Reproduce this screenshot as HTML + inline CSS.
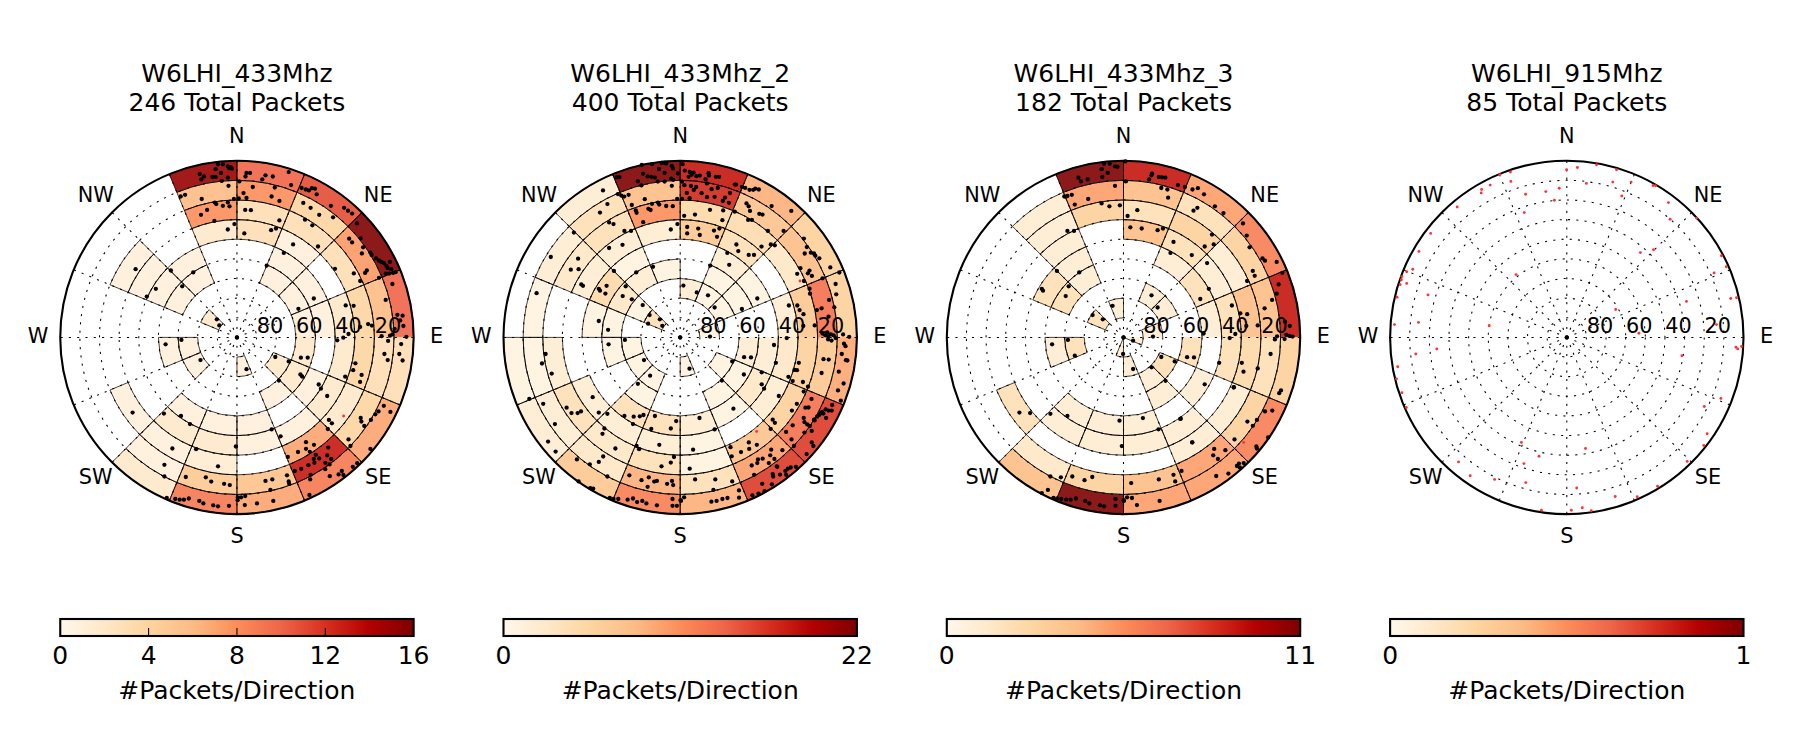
<!DOCTYPE html><html><head><meta charset="utf-8"><title>Packets per direction</title><style>html,body{margin:0;padding:0;background:#fff}body{width:1800px;height:750px;overflow:hidden}svg{display:block}</style></head><body><svg width="1800" height="750" viewBox="0 0 1800 750" font-family="DejaVu Sans, Liberation Sans, sans-serif">
<defs><linearGradient id="g" x1="0" x2="1" y1="0" y2="0">
<stop offset="0.000" stop-color="#fff7ec"/>
<stop offset="0.125" stop-color="#fee8c8"/>
<stop offset="0.250" stop-color="#fdd49e"/>
<stop offset="0.375" stop-color="#fdbb84"/>
<stop offset="0.500" stop-color="#fc8d59"/>
<stop offset="0.625" stop-color="#ef6548"/>
<stop offset="0.750" stop-color="#d7301f"/>
<stop offset="0.875" stop-color="#b30000"/>
<stop offset="1.000" stop-color="#7f0000"/>
</linearGradient></defs>
<g>
<path d="M236.95 160.70A176.70 176.70 0 0 1 304.57 174.15L297.06 192.29A157.07 157.07 0 0 0 236.95 180.33Z" fill="#f1745a" stroke="#f1745a" stroke-width="0.5"/><path d="M236.95 180.33A157.07 157.07 0 0 1 297.06 192.29L289.54 210.43A137.43 137.43 0 0 0 236.95 199.97Z" fill="#fc986a" stroke="#fc986a" stroke-width="0.5"/><path d="M236.95 199.97A137.43 137.43 0 0 1 289.54 210.43L282.03 228.57A117.80 117.80 0 0 0 236.95 219.60Z" fill="#fee1bb" stroke="#fee1bb" stroke-width="0.5"/><path d="M236.95 219.60A117.80 117.80 0 0 1 282.03 228.57L274.52 246.71A98.17 98.17 0 0 0 236.95 239.23Z" fill="#fee1bb" stroke="#fee1bb" stroke-width="0.5"/><path d="M304.57 174.15A176.70 176.70 0 0 1 361.90 212.45L348.01 226.34A157.07 157.07 0 0 0 297.06 192.29Z" fill="#e65d48" stroke="#e65d48" stroke-width="0.5"/><path d="M297.06 192.29A157.07 157.07 0 0 1 348.01 226.34L334.13 240.22A137.43 137.43 0 0 0 289.54 210.43Z" fill="#fdd8a8" stroke="#fdd8a8" stroke-width="0.5"/><path d="M289.54 210.43A137.43 137.43 0 0 1 334.13 240.22L320.25 254.10A117.80 117.80 0 0 0 282.03 228.57Z" fill="#fee1bb" stroke="#fee1bb" stroke-width="0.5"/><path d="M282.03 228.57A117.80 117.80 0 0 1 320.25 254.10L306.36 267.99A98.17 98.17 0 0 0 274.52 246.71Z" fill="#fff1de" stroke="#fff1de" stroke-width="0.5"/><path d="M274.52 246.71A98.17 98.17 0 0 1 306.36 267.99L292.48 281.87A78.53 78.53 0 0 0 267.00 264.84Z" fill="#fff1de" stroke="#fff1de" stroke-width="0.5"/><path d="M267.00 264.84A78.53 78.53 0 0 1 292.48 281.87L278.60 295.75A58.90 58.90 0 0 0 259.49 282.98Z" fill="#fff1de" stroke="#fff1de" stroke-width="0.5"/><path d="M361.90 212.45A176.70 176.70 0 0 1 400.20 269.78L382.06 277.29A157.07 157.07 0 0 0 348.01 226.34Z" fill="#8c1a1a" stroke="#8c1a1a" stroke-width="0.5"/><path d="M348.01 226.34A157.07 157.07 0 0 1 382.06 277.29L363.92 284.81A137.43 137.43 0 0 0 334.13 240.22Z" fill="#fda373" stroke="#fda373" stroke-width="0.5"/><path d="M334.13 240.22A137.43 137.43 0 0 1 363.92 284.81L345.78 292.32A117.80 117.80 0 0 0 320.25 254.10Z" fill="#fee1bb" stroke="#fee1bb" stroke-width="0.5"/><path d="M306.36 267.99A98.17 98.17 0 0 1 327.64 299.83L309.51 307.35A78.53 78.53 0 0 0 292.48 281.87Z" fill="#fff1de" stroke="#fff1de" stroke-width="0.5"/><path d="M292.48 281.87A78.53 78.53 0 0 1 309.51 307.35L291.37 314.86A58.90 58.90 0 0 0 278.60 295.75Z" fill="#fff1de" stroke="#fff1de" stroke-width="0.5"/><path d="M400.20 269.78A176.70 176.70 0 0 1 413.65 337.40L394.02 337.40A157.07 157.07 0 0 0 382.06 277.29Z" fill="#f1745a" stroke="#f1745a" stroke-width="0.5"/><path d="M382.06 277.29A157.07 157.07 0 0 1 394.02 337.40L374.38 337.40A137.43 137.43 0 0 0 363.92 284.81Z" fill="#fdc290" stroke="#fdc290" stroke-width="0.5"/><path d="M363.92 284.81A137.43 137.43 0 0 1 374.38 337.40L354.75 337.40A117.80 117.80 0 0 0 345.78 292.32Z" fill="#fdd8a8" stroke="#fdd8a8" stroke-width="0.5"/><path d="M345.78 292.32A117.80 117.80 0 0 1 354.75 337.40L335.12 337.40A98.17 98.17 0 0 0 327.64 299.83Z" fill="#feeace" stroke="#feeace" stroke-width="0.5"/><path d="M327.64 299.83A98.17 98.17 0 0 1 335.12 337.40L315.48 337.40A78.53 78.53 0 0 0 309.51 307.35Z" fill="#fff1de" stroke="#fff1de" stroke-width="0.5"/><path d="M309.51 307.35A78.53 78.53 0 0 1 315.48 337.40L295.85 337.40A58.90 58.90 0 0 0 291.37 314.86Z" fill="#fff1de" stroke="#fff1de" stroke-width="0.5"/><path d="M413.65 337.40A176.70 176.70 0 0 1 400.20 405.02L382.06 397.51A157.07 157.07 0 0 0 394.02 337.40Z" fill="#fee1bb" stroke="#fee1bb" stroke-width="0.5"/><path d="M394.02 337.40A157.07 157.07 0 0 1 382.06 397.51L363.92 389.99A137.43 137.43 0 0 0 374.38 337.40Z" fill="#fee1bb" stroke="#fee1bb" stroke-width="0.5"/><path d="M374.38 337.40A137.43 137.43 0 0 1 363.92 389.99L345.78 382.48A117.80 117.80 0 0 0 354.75 337.40Z" fill="#fdd8a8" stroke="#fdd8a8" stroke-width="0.5"/><path d="M354.75 337.40A117.80 117.80 0 0 1 345.78 382.48L327.64 374.97A98.17 98.17 0 0 0 335.12 337.40Z" fill="#feeace" stroke="#feeace" stroke-width="0.5"/><path d="M315.48 337.40A78.53 78.53 0 0 1 309.51 367.45L291.37 359.94A58.90 58.90 0 0 0 295.85 337.40Z" fill="#feeace" stroke="#feeace" stroke-width="0.5"/><path d="M400.20 405.02A176.70 176.70 0 0 1 361.90 462.35L348.01 448.46A157.07 157.07 0 0 0 382.06 397.51Z" fill="#fdad7d" stroke="#fdad7d" stroke-width="0.5"/><path d="M382.06 397.51A157.07 157.07 0 0 1 348.01 448.46L334.13 434.58A137.43 137.43 0 0 0 363.92 389.99Z" fill="#fdd8a8" stroke="#fdd8a8" stroke-width="0.5"/><path d="M363.92 389.99A137.43 137.43 0 0 1 334.13 434.58L320.25 420.70A117.80 117.80 0 0 0 345.78 382.48Z" fill="#feeace" stroke="#feeace" stroke-width="0.5"/><path d="M345.78 382.48A117.80 117.80 0 0 1 320.25 420.70L306.36 406.81A98.17 98.17 0 0 0 327.64 374.97Z" fill="#feeace" stroke="#feeace" stroke-width="0.5"/><path d="M327.64 374.97A98.17 98.17 0 0 1 306.36 406.81L292.48 392.93A78.53 78.53 0 0 0 309.51 367.45Z" fill="#fff1de" stroke="#fff1de" stroke-width="0.5"/><path d="M309.51 367.45A78.53 78.53 0 0 1 292.48 392.93L278.60 379.05A58.90 58.90 0 0 0 291.37 359.94Z" fill="#feeace" stroke="#feeace" stroke-width="0.5"/><path d="M291.37 359.94A58.90 58.90 0 0 1 278.60 379.05L264.72 365.17A39.27 39.27 0 0 0 273.23 352.43Z" fill="#feeace" stroke="#feeace" stroke-width="0.5"/><path d="M361.90 462.35A176.70 176.70 0 0 1 304.57 500.65L297.06 482.51A157.07 157.07 0 0 0 348.01 448.46Z" fill="#f68662" stroke="#f68662" stroke-width="0.5"/><path d="M348.01 448.46A157.07 157.07 0 0 1 297.06 482.51L289.54 464.37A137.43 137.43 0 0 0 334.13 434.58Z" fill="#cb2f27" stroke="#cb2f27" stroke-width="0.5"/><path d="M334.13 434.58A137.43 137.43 0 0 1 289.54 464.37L282.03 446.23A117.80 117.80 0 0 0 320.25 420.70Z" fill="#fdad7d" stroke="#fdad7d" stroke-width="0.5"/><path d="M320.25 420.70A117.80 117.80 0 0 1 282.03 446.23L274.52 428.09A98.17 98.17 0 0 0 306.36 406.81Z" fill="#fff1de" stroke="#fff1de" stroke-width="0.5"/><path d="M292.48 392.93A78.53 78.53 0 0 1 267.00 409.96L259.49 391.82A58.90 58.90 0 0 0 278.60 379.05Z" fill="#fff1de" stroke="#fff1de" stroke-width="0.5"/><path d="M304.57 500.65A176.70 176.70 0 0 1 236.95 514.10L236.95 494.47A157.07 157.07 0 0 0 297.06 482.51Z" fill="#fdad7d" stroke="#fdad7d" stroke-width="0.5"/><path d="M297.06 482.51A157.07 157.07 0 0 1 236.95 494.47L236.95 474.83A137.43 137.43 0 0 0 289.54 464.37Z" fill="#fdc796" stroke="#fdc796" stroke-width="0.5"/><path d="M282.03 446.23A117.80 117.80 0 0 1 236.95 455.20L236.95 435.57A98.17 98.17 0 0 0 274.52 428.09Z" fill="#fff1de" stroke="#fff1de" stroke-width="0.5"/><path d="M274.52 428.09A98.17 98.17 0 0 1 236.95 435.57L236.95 415.93A78.53 78.53 0 0 0 267.00 409.96Z" fill="#fff1de" stroke="#fff1de" stroke-width="0.5"/><path d="M251.98 373.68A39.27 39.27 0 0 1 236.95 376.67L236.95 357.03A19.63 19.63 0 0 0 244.46 355.54Z" fill="#fff1de" stroke="#fff1de" stroke-width="0.5"/><path d="M236.95 514.10A176.70 176.70 0 0 1 169.33 500.65L176.84 482.51A157.07 157.07 0 0 0 236.95 494.47Z" fill="#f68662" stroke="#f68662" stroke-width="0.5"/><path d="M236.95 494.47A157.07 157.07 0 0 1 176.84 482.51L184.36 464.37A137.43 137.43 0 0 0 236.95 474.83Z" fill="#fdcd9c" stroke="#fdcd9c" stroke-width="0.5"/><path d="M236.95 474.83A137.43 137.43 0 0 1 184.36 464.37L191.87 446.23A117.80 117.80 0 0 0 236.95 455.20Z" fill="#feeed6" stroke="#feeed6" stroke-width="0.5"/><path d="M236.95 455.20A117.80 117.80 0 0 1 191.87 446.23L199.38 428.09A98.17 98.17 0 0 0 236.95 435.57Z" fill="#feeace" stroke="#feeace" stroke-width="0.5"/><path d="M236.95 435.57A98.17 98.17 0 0 1 199.38 428.09L206.90 409.96A78.53 78.53 0 0 0 236.95 415.93Z" fill="#fff1de" stroke="#fff1de" stroke-width="0.5"/><path d="M169.33 500.65A176.70 176.70 0 0 1 112.00 462.35L125.89 448.46A157.07 157.07 0 0 0 176.84 482.51Z" fill="#feeace" stroke="#feeace" stroke-width="0.5"/><path d="M176.84 482.51A157.07 157.07 0 0 1 125.89 448.46L139.77 434.58A137.43 137.43 0 0 0 184.36 464.37Z" fill="#fff1de" stroke="#fff1de" stroke-width="0.5"/><path d="M184.36 464.37A137.43 137.43 0 0 1 139.77 434.58L153.65 420.70A117.80 117.80 0 0 0 191.87 446.23Z" fill="#fff1de" stroke="#fff1de" stroke-width="0.5"/><path d="M191.87 446.23A117.80 117.80 0 0 1 153.65 420.70L167.54 406.81A98.17 98.17 0 0 0 199.38 428.09Z" fill="#feeace" stroke="#feeace" stroke-width="0.5"/><path d="M199.38 428.09A98.17 98.17 0 0 1 167.54 406.81L181.42 392.93A78.53 78.53 0 0 0 206.90 409.96Z" fill="#fff1de" stroke="#fff1de" stroke-width="0.5"/><path d="M139.77 434.58A137.43 137.43 0 0 1 109.98 389.99L128.12 382.48A117.80 117.80 0 0 0 153.65 420.70Z" fill="#fff1de" stroke="#fff1de" stroke-width="0.5"/><path d="M195.30 379.05A58.90 58.90 0 0 1 182.53 359.94L200.67 352.43A39.27 39.27 0 0 0 209.18 365.17Z" fill="#fff1de" stroke="#fff1de" stroke-width="0.5"/><path d="M164.39 367.45A78.53 78.53 0 0 1 158.42 337.40L178.05 337.40A58.90 58.90 0 0 0 182.53 359.94Z" fill="#fff1de" stroke="#fff1de" stroke-width="0.5"/><path d="M182.53 359.94A58.90 58.90 0 0 1 178.05 337.40L197.68 337.40A39.27 39.27 0 0 0 200.67 352.43Z" fill="#fff1de" stroke="#fff1de" stroke-width="0.5"/><path d="M109.98 284.81A137.43 137.43 0 0 1 139.77 240.22L153.65 254.10A117.80 117.80 0 0 0 128.12 292.32Z" fill="#fff1de" stroke="#fff1de" stroke-width="0.5"/><path d="M128.12 292.32A117.80 117.80 0 0 1 153.65 254.10L167.54 267.99A98.17 98.17 0 0 0 146.26 299.83Z" fill="#fff1de" stroke="#fff1de" stroke-width="0.5"/><path d="M146.26 299.83A98.17 98.17 0 0 1 167.54 267.99L181.42 281.87A78.53 78.53 0 0 0 164.39 307.35Z" fill="#fff1de" stroke="#fff1de" stroke-width="0.5"/><path d="M164.39 307.35A78.53 78.53 0 0 1 181.42 281.87L195.30 295.75A58.90 58.90 0 0 0 182.53 314.86Z" fill="#fff1de" stroke="#fff1de" stroke-width="0.5"/><path d="M200.67 322.37A39.27 39.27 0 0 1 209.18 309.63L223.07 323.52A19.63 19.63 0 0 0 218.81 329.89Z" fill="#feeace" stroke="#feeace" stroke-width="0.5"/><path d="M167.54 267.99A98.17 98.17 0 0 1 199.38 246.71L206.90 264.84A78.53 78.53 0 0 0 181.42 281.87Z" fill="#fff1de" stroke="#fff1de" stroke-width="0.5"/><path d="M181.42 281.87A78.53 78.53 0 0 1 206.90 264.84L214.41 282.98A58.90 58.90 0 0 0 195.30 295.75Z" fill="#fff1de" stroke="#fff1de" stroke-width="0.5"/><path d="M169.33 174.15A176.70 176.70 0 0 1 236.95 160.70L236.95 180.33A157.07 157.07 0 0 0 176.84 192.29Z" fill="#a31a1a" stroke="#a31a1a" stroke-width="0.5"/><path d="M176.84 192.29A157.07 157.07 0 0 1 236.95 180.33L236.95 199.97A137.43 137.43 0 0 0 184.36 210.43Z" fill="#fdc290" stroke="#fdc290" stroke-width="0.5"/><path d="M184.36 210.43A137.43 137.43 0 0 1 236.95 199.97L236.95 219.60A117.80 117.80 0 0 0 191.87 228.57Z" fill="#fc986a" stroke="#fc986a" stroke-width="0.5"/><path d="M191.87 228.57A117.80 117.80 0 0 1 236.95 219.60L236.95 239.23A98.17 98.17 0 0 0 199.38 246.71Z" fill="#feeace" stroke="#feeace" stroke-width="0.5"/>
<path d="M236.95 160.70A176.70 176.70 0 0 1 304.57 174.15M236.95 180.33A157.07 157.07 0 0 1 297.06 192.29M236.95 160.70L236.95 180.33M304.57 174.15L297.06 192.29M236.95 180.33A157.07 157.07 0 0 1 297.06 192.29M236.95 199.97A137.43 137.43 0 0 1 289.54 210.43M236.95 180.33L236.95 199.97M297.06 192.29L289.54 210.43M236.95 199.97A137.43 137.43 0 0 1 289.54 210.43M236.95 219.60A117.80 117.80 0 0 1 282.03 228.57M236.95 199.97L236.95 219.60M289.54 210.43L282.03 228.57M236.95 219.60A117.80 117.80 0 0 1 282.03 228.57M236.95 239.23A98.17 98.17 0 0 1 274.52 246.71M236.95 219.60L236.95 239.23M282.03 228.57L274.52 246.71M304.57 174.15A176.70 176.70 0 0 1 361.90 212.45M297.06 192.29A157.07 157.07 0 0 1 348.01 226.34M304.57 174.15L297.06 192.29M361.90 212.45L348.01 226.34M297.06 192.29A157.07 157.07 0 0 1 348.01 226.34M289.54 210.43A137.43 137.43 0 0 1 334.13 240.22M297.06 192.29L289.54 210.43M348.01 226.34L334.13 240.22M289.54 210.43A137.43 137.43 0 0 1 334.13 240.22M282.03 228.57A117.80 117.80 0 0 1 320.25 254.10M289.54 210.43L282.03 228.57M334.13 240.22L320.25 254.10M282.03 228.57A117.80 117.80 0 0 1 320.25 254.10M274.52 246.71A98.17 98.17 0 0 1 306.36 267.99M282.03 228.57L274.52 246.71M320.25 254.10L306.36 267.99M274.52 246.71A98.17 98.17 0 0 1 306.36 267.99M267.00 264.84A78.53 78.53 0 0 1 292.48 281.87M274.52 246.71L267.00 264.84M306.36 267.99L292.48 281.87M267.00 264.84A78.53 78.53 0 0 1 292.48 281.87M259.49 282.98A58.90 58.90 0 0 1 278.60 295.75M267.00 264.84L259.49 282.98M292.48 281.87L278.60 295.75M361.90 212.45A176.70 176.70 0 0 1 400.20 269.78M348.01 226.34A157.07 157.07 0 0 1 382.06 277.29M361.90 212.45L348.01 226.34M400.20 269.78L382.06 277.29M348.01 226.34A157.07 157.07 0 0 1 382.06 277.29M334.13 240.22A137.43 137.43 0 0 1 363.92 284.81M348.01 226.34L334.13 240.22M382.06 277.29L363.92 284.81M334.13 240.22A137.43 137.43 0 0 1 363.92 284.81M320.25 254.10A117.80 117.80 0 0 1 345.78 292.32M334.13 240.22L320.25 254.10M363.92 284.81L345.78 292.32M306.36 267.99A98.17 98.17 0 0 1 327.64 299.83M292.48 281.87A78.53 78.53 0 0 1 309.51 307.35M306.36 267.99L292.48 281.87M327.64 299.83L309.51 307.35M292.48 281.87A78.53 78.53 0 0 1 309.51 307.35M278.60 295.75A58.90 58.90 0 0 1 291.37 314.86M292.48 281.87L278.60 295.75M309.51 307.35L291.37 314.86M400.20 269.78A176.70 176.70 0 0 1 413.65 337.40M382.06 277.29A157.07 157.07 0 0 1 394.02 337.40M400.20 269.78L382.06 277.29M382.06 277.29A157.07 157.07 0 0 1 394.02 337.40M363.92 284.81A137.43 137.43 0 0 1 374.38 337.40M382.06 277.29L363.92 284.81M363.92 284.81A137.43 137.43 0 0 1 374.38 337.40M345.78 292.32A117.80 117.80 0 0 1 354.75 337.40M363.92 284.81L345.78 292.32M345.78 292.32A117.80 117.80 0 0 1 354.75 337.40M327.64 299.83A98.17 98.17 0 0 1 335.12 337.40M345.78 292.32L327.64 299.83M327.64 299.83A98.17 98.17 0 0 1 335.12 337.40M309.51 307.35A78.53 78.53 0 0 1 315.48 337.40M327.64 299.83L309.51 307.35M309.51 307.35A78.53 78.53 0 0 1 315.48 337.40M291.37 314.86A58.90 58.90 0 0 1 295.85 337.40M309.51 307.35L291.37 314.86M413.65 337.40A176.70 176.70 0 0 1 400.20 405.02M394.02 337.40A157.07 157.07 0 0 1 382.06 397.51M400.20 405.02L382.06 397.51M394.02 337.40A157.07 157.07 0 0 1 382.06 397.51M374.38 337.40A137.43 137.43 0 0 1 363.92 389.99M382.06 397.51L363.92 389.99M374.38 337.40A137.43 137.43 0 0 1 363.92 389.99M354.75 337.40A117.80 117.80 0 0 1 345.78 382.48M363.92 389.99L345.78 382.48M354.75 337.40A117.80 117.80 0 0 1 345.78 382.48M335.12 337.40A98.17 98.17 0 0 1 327.64 374.97M345.78 382.48L327.64 374.97M315.48 337.40A78.53 78.53 0 0 1 309.51 367.45M295.85 337.40A58.90 58.90 0 0 1 291.37 359.94M309.51 367.45L291.37 359.94M400.20 405.02A176.70 176.70 0 0 1 361.90 462.35M382.06 397.51A157.07 157.07 0 0 1 348.01 448.46M400.20 405.02L382.06 397.51M361.90 462.35L348.01 448.46M382.06 397.51A157.07 157.07 0 0 1 348.01 448.46M363.92 389.99A137.43 137.43 0 0 1 334.13 434.58M382.06 397.51L363.92 389.99M348.01 448.46L334.13 434.58M363.92 389.99A137.43 137.43 0 0 1 334.13 434.58M345.78 382.48A117.80 117.80 0 0 1 320.25 420.70M363.92 389.99L345.78 382.48M334.13 434.58L320.25 420.70M345.78 382.48A117.80 117.80 0 0 1 320.25 420.70M327.64 374.97A98.17 98.17 0 0 1 306.36 406.81M345.78 382.48L327.64 374.97M320.25 420.70L306.36 406.81M327.64 374.97A98.17 98.17 0 0 1 306.36 406.81M309.51 367.45A78.53 78.53 0 0 1 292.48 392.93M327.64 374.97L309.51 367.45M306.36 406.81L292.48 392.93M309.51 367.45A78.53 78.53 0 0 1 292.48 392.93M291.37 359.94A58.90 58.90 0 0 1 278.60 379.05M309.51 367.45L291.37 359.94M292.48 392.93L278.60 379.05M291.37 359.94A58.90 58.90 0 0 1 278.60 379.05M273.23 352.43A39.27 39.27 0 0 1 264.72 365.17M291.37 359.94L273.23 352.43M278.60 379.05L264.72 365.17M361.90 462.35A176.70 176.70 0 0 1 304.57 500.65M348.01 448.46A157.07 157.07 0 0 1 297.06 482.51M361.90 462.35L348.01 448.46M304.57 500.65L297.06 482.51M348.01 448.46A157.07 157.07 0 0 1 297.06 482.51M334.13 434.58A137.43 137.43 0 0 1 289.54 464.37M348.01 448.46L334.13 434.58M297.06 482.51L289.54 464.37M334.13 434.58A137.43 137.43 0 0 1 289.54 464.37M320.25 420.70A117.80 117.80 0 0 1 282.03 446.23M334.13 434.58L320.25 420.70M289.54 464.37L282.03 446.23M320.25 420.70A117.80 117.80 0 0 1 282.03 446.23M306.36 406.81A98.17 98.17 0 0 1 274.52 428.09M320.25 420.70L306.36 406.81M282.03 446.23L274.52 428.09M292.48 392.93A78.53 78.53 0 0 1 267.00 409.96M278.60 379.05A58.90 58.90 0 0 1 259.49 391.82M292.48 392.93L278.60 379.05M267.00 409.96L259.49 391.82M304.57 500.65A176.70 176.70 0 0 1 236.95 514.10M297.06 482.51A157.07 157.07 0 0 1 236.95 494.47M304.57 500.65L297.06 482.51M236.95 514.10L236.95 494.47M297.06 482.51A157.07 157.07 0 0 1 236.95 494.47M289.54 464.37A137.43 137.43 0 0 1 236.95 474.83M297.06 482.51L289.54 464.37M236.95 494.47L236.95 474.83M282.03 446.23A117.80 117.80 0 0 1 236.95 455.20M274.52 428.09A98.17 98.17 0 0 1 236.95 435.57M282.03 446.23L274.52 428.09M236.95 455.20L236.95 435.57M274.52 428.09A98.17 98.17 0 0 1 236.95 435.57M267.00 409.96A78.53 78.53 0 0 1 236.95 415.93M274.52 428.09L267.00 409.96M236.95 435.57L236.95 415.93M251.98 373.68A39.27 39.27 0 0 1 236.95 376.67M244.46 355.54A19.63 19.63 0 0 1 236.95 357.03M251.98 373.68L244.46 355.54M236.95 376.67L236.95 357.03M236.95 514.10A176.70 176.70 0 0 1 169.33 500.65M236.95 494.47A157.07 157.07 0 0 1 176.84 482.51M236.95 514.10L236.95 494.47M169.33 500.65L176.84 482.51M236.95 494.47A157.07 157.07 0 0 1 176.84 482.51M236.95 474.83A137.43 137.43 0 0 1 184.36 464.37M236.95 494.47L236.95 474.83M176.84 482.51L184.36 464.37M236.95 474.83A137.43 137.43 0 0 1 184.36 464.37M236.95 455.20A117.80 117.80 0 0 1 191.87 446.23M236.95 474.83L236.95 455.20M184.36 464.37L191.87 446.23M236.95 455.20A117.80 117.80 0 0 1 191.87 446.23M236.95 435.57A98.17 98.17 0 0 1 199.38 428.09M236.95 455.20L236.95 435.57M191.87 446.23L199.38 428.09M236.95 435.57A98.17 98.17 0 0 1 199.38 428.09M236.95 415.93A78.53 78.53 0 0 1 206.90 409.96M236.95 435.57L236.95 415.93M199.38 428.09L206.90 409.96M169.33 500.65A176.70 176.70 0 0 1 112.00 462.35M176.84 482.51A157.07 157.07 0 0 1 125.89 448.46M169.33 500.65L176.84 482.51M112.00 462.35L125.89 448.46M176.84 482.51A157.07 157.07 0 0 1 125.89 448.46M184.36 464.37A137.43 137.43 0 0 1 139.77 434.58M176.84 482.51L184.36 464.37M125.89 448.46L139.77 434.58M184.36 464.37A137.43 137.43 0 0 1 139.77 434.58M191.87 446.23A117.80 117.80 0 0 1 153.65 420.70M184.36 464.37L191.87 446.23M139.77 434.58L153.65 420.70M191.87 446.23A117.80 117.80 0 0 1 153.65 420.70M199.38 428.09A98.17 98.17 0 0 1 167.54 406.81M191.87 446.23L199.38 428.09M153.65 420.70L167.54 406.81M199.38 428.09A98.17 98.17 0 0 1 167.54 406.81M206.90 409.96A78.53 78.53 0 0 1 181.42 392.93M199.38 428.09L206.90 409.96M167.54 406.81L181.42 392.93M139.77 434.58A137.43 137.43 0 0 1 109.98 389.99M153.65 420.70A117.80 117.80 0 0 1 128.12 382.48M139.77 434.58L153.65 420.70M109.98 389.99L128.12 382.48M195.30 379.05A58.90 58.90 0 0 1 182.53 359.94M209.18 365.17A39.27 39.27 0 0 1 200.67 352.43M195.30 379.05L209.18 365.17M182.53 359.94L200.67 352.43M164.39 367.45A78.53 78.53 0 0 1 158.42 337.40M182.53 359.94A58.90 58.90 0 0 1 178.05 337.40M164.39 367.45L182.53 359.94M158.42 337.40L178.05 337.40M182.53 359.94A58.90 58.90 0 0 1 178.05 337.40M200.67 352.43A39.27 39.27 0 0 1 197.68 337.40M182.53 359.94L200.67 352.43M178.05 337.40L197.68 337.40M109.98 284.81A137.43 137.43 0 0 1 139.77 240.22M128.12 292.32A117.80 117.80 0 0 1 153.65 254.10M109.98 284.81L128.12 292.32M139.77 240.22L153.65 254.10M128.12 292.32A117.80 117.80 0 0 1 153.65 254.10M146.26 299.83A98.17 98.17 0 0 1 167.54 267.99M128.12 292.32L146.26 299.83M153.65 254.10L167.54 267.99M146.26 299.83A98.17 98.17 0 0 1 167.54 267.99M164.39 307.35A78.53 78.53 0 0 1 181.42 281.87M146.26 299.83L164.39 307.35M167.54 267.99L181.42 281.87M164.39 307.35A78.53 78.53 0 0 1 181.42 281.87M182.53 314.86A58.90 58.90 0 0 1 195.30 295.75M164.39 307.35L182.53 314.86M181.42 281.87L195.30 295.75M200.67 322.37A39.27 39.27 0 0 1 209.18 309.63M218.81 329.89A19.63 19.63 0 0 1 223.07 323.52M200.67 322.37L218.81 329.89M209.18 309.63L223.07 323.52M167.54 267.99A98.17 98.17 0 0 1 199.38 246.71M181.42 281.87A78.53 78.53 0 0 1 206.90 264.84M167.54 267.99L181.42 281.87M199.38 246.71L206.90 264.84M181.42 281.87A78.53 78.53 0 0 1 206.90 264.84M195.30 295.75A58.90 58.90 0 0 1 214.41 282.98M181.42 281.87L195.30 295.75M206.90 264.84L214.41 282.98M169.33 174.15A176.70 176.70 0 0 1 236.95 160.70M176.84 192.29A157.07 157.07 0 0 1 236.95 180.33M169.33 174.15L176.84 192.29M236.95 160.70L236.95 180.33M176.84 192.29A157.07 157.07 0 0 1 236.95 180.33M184.36 210.43A137.43 137.43 0 0 1 236.95 199.97M176.84 192.29L184.36 210.43M236.95 180.33L236.95 199.97M184.36 210.43A137.43 137.43 0 0 1 236.95 199.97M191.87 228.57A117.80 117.80 0 0 1 236.95 219.60M184.36 210.43L191.87 228.57M236.95 199.97L236.95 219.60M191.87 228.57A117.80 117.80 0 0 1 236.95 219.60M199.38 246.71A98.17 98.17 0 0 1 236.95 239.23M191.87 228.57L199.38 246.71M236.95 219.60L236.95 239.23" fill="none" stroke="#000" stroke-width="0.72"/>
<g fill="none" stroke="#000" stroke-width="1.05" stroke-dasharray="2.1 6.2"><circle cx="236.95" cy="337.40" r="19.63"/><circle cx="236.95" cy="337.40" r="39.27"/><circle cx="236.95" cy="337.40" r="58.90"/><circle cx="236.95" cy="337.40" r="78.53"/><circle cx="236.95" cy="337.40" r="98.17"/><circle cx="236.95" cy="337.40" r="117.80"/><circle cx="236.95" cy="337.40" r="137.43"/><circle cx="236.95" cy="337.40" r="157.07"/><line x1="236.95" y1="337.40" x2="236.95" y2="160.70"/><line x1="236.95" y1="337.40" x2="304.57" y2="174.15"/><line x1="236.95" y1="337.40" x2="361.90" y2="212.45"/><line x1="236.95" y1="337.40" x2="400.20" y2="269.78"/><line x1="236.95" y1="337.40" x2="413.65" y2="337.40"/><line x1="236.95" y1="337.40" x2="400.20" y2="405.02"/><line x1="236.95" y1="337.40" x2="361.90" y2="462.35"/><line x1="236.95" y1="337.40" x2="304.57" y2="500.65"/><line x1="236.95" y1="337.40" x2="236.95" y2="514.10"/><line x1="236.95" y1="337.40" x2="169.33" y2="500.65"/><line x1="236.95" y1="337.40" x2="112.00" y2="462.35"/><line x1="236.95" y1="337.40" x2="73.70" y2="405.02"/><line x1="236.95" y1="337.40" x2="60.25" y2="337.40"/><line x1="236.95" y1="337.40" x2="73.70" y2="269.78"/><line x1="236.95" y1="337.40" x2="112.00" y2="212.45"/><line x1="236.95" y1="337.40" x2="169.33" y2="174.15"/></g>
<circle cx="236.95" cy="337.40" r="176.70" fill="none" stroke="#000" stroke-width="2.1"/>
<g fill="#000"><circle cx="135.6" cy="269.2" r="2.15"/><circle cx="146.8" cy="296.6" r="2.15"/><circle cx="155.8" cy="288.8" r="2.15"/><circle cx="182.2" cy="286.3" r="2.15"/><circle cx="170.9" cy="270.5" r="2.15"/><circle cx="193.2" cy="272.4" r="2.15"/><circle cx="216.8" cy="319.3" r="2.15"/><circle cx="219.3" cy="325.4" r="2.15"/><circle cx="199.7" cy="174.1" r="2.15"/><circle cx="204.1" cy="176.5" r="2.15"/><circle cx="201.4" cy="179.4" r="2.15"/><circle cx="212.4" cy="177.0" r="2.15"/><circle cx="215.6" cy="177.0" r="2.15"/><circle cx="215.6" cy="169.2" r="2.15"/><circle cx="221.0" cy="172.9" r="2.15"/><circle cx="227.8" cy="177.7" r="2.15"/><circle cx="221.7" cy="180.9" r="2.15"/><circle cx="218.0" cy="164.3" r="2.15"/><circle cx="222.9" cy="164.3" r="2.15"/><circle cx="227.8" cy="166.3" r="2.15"/><circle cx="230.7" cy="167.2" r="2.15"/><circle cx="231.9" cy="168.7" r="2.15"/><circle cx="229.0" cy="168.0" r="2.15"/><circle cx="180.7" cy="196.5" r="2.15"/><circle cx="185.1" cy="194.8" r="2.15"/><circle cx="201.7" cy="199.0" r="2.15"/><circle cx="228.5" cy="185.8" r="2.15"/><circle cx="233.9" cy="199.0" r="2.15"/><circle cx="214.9" cy="202.6" r="2.15"/><circle cx="216.3" cy="204.1" r="2.15"/><circle cx="222.9" cy="205.8" r="2.15"/><circle cx="227.8" cy="202.4" r="2.15"/><circle cx="229.5" cy="206.3" r="2.15"/><circle cx="207.1" cy="209.9" r="2.15"/><circle cx="201.0" cy="214.8" r="2.15"/><circle cx="214.4" cy="220.9" r="2.15"/><circle cx="234.4" cy="224.1" r="2.15"/><circle cx="227.8" cy="229.5" r="2.15"/><circle cx="246.5" cy="172.9" r="2.15"/><circle cx="250.1" cy="172.9" r="2.15"/><circle cx="245.5" cy="176.5" r="2.15"/><circle cx="265.5" cy="175.3" r="2.15"/><circle cx="262.3" cy="179.4" r="2.15"/><circle cx="272.8" cy="176.5" r="2.15"/><circle cx="288.7" cy="172.1" r="2.15"/><circle cx="291.1" cy="185.1" r="2.15"/><circle cx="239.4" cy="181.4" r="2.15"/><circle cx="252.8" cy="187.0" r="2.15"/><circle cx="243.5" cy="193.1" r="2.15"/><circle cx="246.5" cy="198.0" r="2.15"/><circle cx="274.8" cy="187.5" r="2.15"/><circle cx="271.6" cy="196.5" r="2.15"/><circle cx="279.4" cy="200.9" r="2.15"/><circle cx="238.7" cy="198.5" r="2.15"/><circle cx="245.2" cy="209.9" r="2.15"/><circle cx="250.9" cy="210.2" r="2.15"/><circle cx="279.4" cy="220.4" r="2.15"/><circle cx="244.3" cy="233.4" r="2.15"/><circle cx="271.1" cy="230.2" r="2.15"/><circle cx="276.0" cy="228.5" r="2.15"/><circle cx="301.6" cy="188.0" r="2.15"/><circle cx="305.8" cy="189.5" r="2.15"/><circle cx="308.9" cy="190.4" r="2.15"/><circle cx="311.9" cy="188.2" r="2.15"/><circle cx="315.0" cy="188.7" r="2.15"/><circle cx="316.7" cy="194.3" r="2.15"/><circle cx="330.9" cy="205.8" r="2.15"/><circle cx="344.1" cy="207.8" r="2.15"/><circle cx="348.0" cy="210.7" r="2.15"/><circle cx="352.1" cy="213.6" r="2.15"/><circle cx="303.3" cy="202.9" r="2.15"/><circle cx="310.6" cy="207.8" r="2.15"/><circle cx="319.2" cy="214.8" r="2.15"/><circle cx="333.1" cy="217.3" r="2.15"/><circle cx="305.0" cy="219.7" r="2.15"/><circle cx="312.3" cy="225.3" r="2.15"/><circle cx="318.0" cy="246.5" r="2.15"/><circle cx="293.1" cy="244.4" r="2.15"/><circle cx="283.8" cy="252.9" r="2.15"/><circle cx="266.7" cy="265.6" r="2.15"/><circle cx="357.0" cy="223.4" r="2.15"/><circle cx="360.7" cy="238.3" r="2.15"/><circle cx="363.1" cy="247.3" r="2.15"/><circle cx="370.4" cy="252.6" r="2.15"/><circle cx="371.6" cy="255.1" r="2.15"/><circle cx="376.0" cy="258.3" r="2.15"/><circle cx="379.0" cy="260.7" r="2.15"/><circle cx="381.4" cy="261.9" r="2.15"/><circle cx="383.8" cy="263.1" r="2.15"/><circle cx="386.3" cy="265.6" r="2.15"/><circle cx="389.9" cy="261.9" r="2.15"/><circle cx="387.5" cy="268.0" r="2.15"/><circle cx="391.2" cy="269.2" r="2.15"/><circle cx="385.8" cy="273.6" r="2.15"/><circle cx="389.2" cy="273.6" r="2.15"/><circle cx="393.1" cy="272.9" r="2.15"/><circle cx="395.6" cy="272.2" r="2.15"/><circle cx="349.2" cy="238.7" r="2.15"/><circle cx="352.1" cy="242.4" r="2.15"/><circle cx="361.9" cy="253.4" r="2.15"/><circle cx="366.8" cy="270.5" r="2.15"/><circle cx="365.1" cy="272.9" r="2.15"/><circle cx="379.0" cy="277.8" r="2.15"/><circle cx="335.0" cy="268.8" r="2.15"/><circle cx="353.8" cy="273.4" r="2.15"/><circle cx="360.2" cy="281.0" r="2.15"/><circle cx="313.8" cy="298.5" r="2.15"/><circle cx="298.4" cy="308.8" r="2.15"/><circle cx="392.4" cy="284.0" r="2.15"/><circle cx="397.4" cy="314.8" r="2.15"/><circle cx="402.6" cy="315.7" r="2.15"/><circle cx="400.2" cy="320.4" r="2.15"/><circle cx="403.4" cy="326.0" r="2.15"/><circle cx="394.6" cy="328.8" r="2.15"/><circle cx="406.4" cy="336.8" r="2.15"/><circle cx="385.7" cy="299.9" r="2.15"/><circle cx="381.6" cy="336.2" r="2.15"/><circle cx="390.0" cy="335.7" r="2.15"/><circle cx="392.4" cy="334.4" r="2.15"/><circle cx="360.1" cy="326.9" r="2.15"/><circle cx="368.1" cy="324.1" r="2.15"/><circle cx="371.9" cy="325.6" r="2.15"/><circle cx="345.7" cy="305.4" r="2.15"/><circle cx="353.6" cy="305.8" r="2.15"/><circle cx="348.5" cy="334.0" r="2.15"/><circle cx="343.3" cy="337.7" r="2.15"/><circle cx="401.2" cy="344.1" r="2.15"/><circle cx="399.3" cy="354.0" r="2.15"/><circle cx="402.6" cy="360.5" r="2.15"/><circle cx="388.1" cy="340.9" r="2.15"/><circle cx="384.4" cy="354.0" r="2.15"/><circle cx="387.7" cy="360.1" r="2.15"/><circle cx="355.4" cy="363.3" r="2.15"/><circle cx="353.2" cy="370.2" r="2.15"/><circle cx="361.6" cy="374.9" r="2.15"/><circle cx="360.1" cy="381.9" r="2.15"/><circle cx="345.2" cy="376.7" r="2.15"/><circle cx="337.2" cy="340.3" r="2.15"/><circle cx="300.9" cy="357.7" r="2.15"/><circle cx="307.7" cy="357.7" r="2.15"/><circle cx="383.8" cy="405.8" r="2.15"/><circle cx="390.4" cy="411.9" r="2.15"/><circle cx="378.5" cy="411.4" r="2.15"/><circle cx="375.3" cy="414.3" r="2.15"/><circle cx="370.9" cy="419.9" r="2.15"/><circle cx="370.4" cy="448.9" r="2.15"/><circle cx="360.7" cy="418.0" r="2.15"/><circle cx="361.4" cy="421.6" r="2.15"/><circle cx="364.3" cy="426.0" r="2.15"/><circle cx="348.5" cy="439.4" r="2.15"/><circle cx="350.4" cy="446.0" r="2.15"/><circle cx="328.9" cy="419.9" r="2.15"/><circle cx="331.9" cy="423.3" r="2.15"/><circle cx="327.2" cy="396.0" r="2.15"/><circle cx="320.9" cy="388.7" r="2.15"/><circle cx="318.7" cy="384.5" r="2.15"/><circle cx="300.4" cy="374.5" r="2.15"/><circle cx="302.1" cy="376.5" r="2.15"/><circle cx="275.3" cy="357.0" r="2.15"/><circle cx="288.7" cy="361.4" r="2.15"/><circle cx="280.6" cy="436.3" r="2.15"/><circle cx="278.9" cy="380.6" r="2.15"/><circle cx="237.9" cy="497.3" r="2.15"/><circle cx="241.1" cy="497.3" r="2.15"/><circle cx="245.2" cy="496.0" r="2.15"/><circle cx="244.8" cy="505.1" r="2.15"/><circle cx="257.0" cy="503.4" r="2.15"/><circle cx="273.3" cy="500.9" r="2.15"/><circle cx="265.5" cy="480.9" r="2.15"/><circle cx="272.3" cy="479.4" r="2.15"/><circle cx="270.4" cy="489.9" r="2.15"/><circle cx="287.0" cy="475.3" r="2.15"/><circle cx="288.7" cy="481.4" r="2.15"/><circle cx="289.2" cy="483.8" r="2.15"/><circle cx="271.6" cy="429.4" r="2.15"/><circle cx="246.5" cy="369.2" r="2.15"/><circle cx="325.2" cy="469.2" r="2.15"/><circle cx="310.2" cy="479.4" r="2.15"/><circle cx="329.8" cy="476.2" r="2.15"/><circle cx="338.6" cy="474.4" r="2.15"/><circle cx="341.8" cy="471.0" r="2.15"/><circle cx="343.4" cy="475.0" r="2.15"/><circle cx="352.8" cy="466.8" r="2.15"/><circle cx="357.2" cy="463.2" r="2.15"/><circle cx="309.4" cy="495.0" r="2.15"/><circle cx="328.2" cy="447.6" r="2.15"/><circle cx="315.8" cy="454.8" r="2.15"/><circle cx="327.2" cy="455.4" r="2.15"/><circle cx="313.8" cy="459.0" r="2.15"/><circle cx="319.2" cy="458.4" r="2.15"/><circle cx="331.2" cy="459.0" r="2.15"/><circle cx="314.4" cy="462.8" r="2.15"/><circle cx="325.4" cy="462.8" r="2.15"/><circle cx="329.6" cy="464.4" r="2.15"/><circle cx="308.4" cy="465.2" r="2.15"/><circle cx="301.2" cy="468.8" r="2.15"/><circle cx="294.8" cy="471.0" r="2.15"/><circle cx="310.6" cy="474.8" r="2.15"/><circle cx="306.0" cy="442.2" r="2.15"/><circle cx="314.0" cy="444.8" r="2.15"/><circle cx="306.0" cy="448.8" r="2.15"/><circle cx="298.0" cy="452.0" r="2.15"/><circle cx="309.8" cy="451.8" r="2.15"/><circle cx="327.8" cy="429.0" r="2.15"/><circle cx="287.8" cy="457.0" r="2.15"/><circle cx="175.3" cy="499.0" r="2.15"/><circle cx="179.7" cy="499.7" r="2.15"/><circle cx="183.9" cy="499.7" r="2.15"/><circle cx="188.8" cy="498.5" r="2.15"/><circle cx="199.3" cy="500.9" r="2.15"/><circle cx="203.4" cy="503.4" r="2.15"/><circle cx="213.2" cy="505.3" r="2.15"/><circle cx="218.0" cy="506.3" r="2.15"/><circle cx="229.0" cy="505.8" r="2.15"/><circle cx="237.6" cy="500.2" r="2.15"/><circle cx="185.8" cy="477.0" r="2.15"/><circle cx="205.8" cy="477.3" r="2.15"/><circle cx="211.2" cy="481.6" r="2.15"/><circle cx="224.1" cy="483.8" r="2.15"/><circle cx="229.8" cy="485.1" r="2.15"/><circle cx="218.0" cy="466.3" r="2.15"/><circle cx="196.1" cy="449.2" r="2.15"/><circle cx="235.9" cy="446.5" r="2.15"/><circle cx="166.8" cy="498.0" r="2.15"/><circle cx="164.4" cy="476.5" r="2.15"/><circle cx="164.4" cy="464.8" r="2.15"/><circle cx="172.4" cy="448.5" r="2.15"/><circle cx="163.9" cy="413.6" r="2.15"/><circle cx="190.0" cy="424.1" r="2.15"/><circle cx="181.0" cy="416.0" r="2.15"/><circle cx="132.6" cy="412.6" r="2.15"/><circle cx="165.6" cy="344.3" r="2.15"/><circle cx="181.4" cy="339.9" r="2.15"/><circle cx="200.5" cy="360.1" r="2.15"/></g>
<g fill="#ff3333"><circle cx="343.6" cy="416.0" r="1.45"/></g>
<circle cx="236.95" cy="337.40" r="2" fill="#000"/>
<text x="236.9" y="143.3" font-size="20.8" text-anchor="middle">N</text>
<text x="378.2" y="201.8" font-size="20.8" text-anchor="middle">NE</text>
<text x="436.6" y="343.0" font-size="20.8" text-anchor="middle">E</text>
<text x="378.2" y="484.2" font-size="20.8" text-anchor="middle">SE</text>
<text x="237.0" y="542.7" font-size="20.8" text-anchor="middle">S</text>
<text x="95.7" y="484.2" font-size="20.8" text-anchor="middle">SW</text>
<text x="38.1" y="343.0" font-size="20.8" text-anchor="middle">W</text>
<text x="95.7" y="201.8" font-size="20.8" text-anchor="middle">NW</text>
<text x="270.1" y="333.0" font-size="20.8" text-anchor="middle">80</text>
<text x="309.3" y="333.0" font-size="20.8" text-anchor="middle">60</text>
<text x="348.6" y="333.0" font-size="20.8" text-anchor="middle">40</text>
<text x="387.9" y="333.0" font-size="20.8" text-anchor="middle">20</text>
<text x="236.9" y="81.7" font-size="25" text-anchor="middle">W6LHI_433Mhz</text>
<text x="236.9" y="110.8" font-size="25" text-anchor="middle">246 Total Packets</text>
<rect x="60.25" y="619" width="353.40" height="17" fill="url(#g)" stroke="#000" stroke-width="2.1"/>
<text x="60.2" y="664" font-size="25" text-anchor="middle">0</text>
<line x1="148.60" y1="628" x2="148.60" y2="636" stroke="#000" stroke-width="1.05"/>
<text x="148.6" y="664" font-size="25" text-anchor="middle">4</text>
<line x1="236.95" y1="628" x2="236.95" y2="636" stroke="#000" stroke-width="1.05"/>
<text x="236.9" y="664" font-size="25" text-anchor="middle">8</text>
<line x1="325.30" y1="628" x2="325.30" y2="636" stroke="#000" stroke-width="1.05"/>
<text x="325.3" y="664" font-size="25" text-anchor="middle">12</text>
<text x="413.6" y="664" font-size="25" text-anchor="middle">16</text>
<text x="236.9" y="698.5" font-size="25" text-anchor="middle">#Packets/Direction</text>
</g>
<g>
<path d="M680.20 160.70A176.70 176.70 0 0 1 747.82 174.15L740.31 192.29A157.07 157.07 0 0 0 680.20 180.33Z" fill="#c92d26" stroke="#c92d26" stroke-width="0.5"/><path d="M680.20 180.33A157.07 157.07 0 0 1 740.31 192.29L732.79 210.43A137.43 137.43 0 0 0 680.20 199.97Z" fill="#d53d30" stroke="#d53d30" stroke-width="0.5"/><path d="M680.20 199.97A137.43 137.43 0 0 1 732.79 210.43L725.28 228.57A117.80 117.80 0 0 0 680.20 219.60Z" fill="#fddcaf" stroke="#fddcaf" stroke-width="0.5"/><path d="M680.20 219.60A117.80 117.80 0 0 1 725.28 228.57L717.77 246.71A98.17 98.17 0 0 0 680.20 239.23Z" fill="#fdcc9b" stroke="#fdcc9b" stroke-width="0.5"/><path d="M680.20 278.50A58.90 58.90 0 0 1 702.74 282.98L695.23 301.12A39.27 39.27 0 0 0 680.20 298.13Z" fill="#feeed6" stroke="#feeed6" stroke-width="0.5"/><path d="M747.82 174.15A176.70 176.70 0 0 1 805.15 212.45L791.26 226.34A157.07 157.07 0 0 0 740.31 192.29Z" fill="#fdb786" stroke="#fdb786" stroke-width="0.5"/><path d="M740.31 192.29A157.07 157.07 0 0 1 791.26 226.34L777.38 240.22A137.43 137.43 0 0 0 732.79 210.43Z" fill="#fdc897" stroke="#fdc897" stroke-width="0.5"/><path d="M732.79 210.43A137.43 137.43 0 0 1 777.38 240.22L763.50 254.10A117.80 117.80 0 0 0 725.28 228.57Z" fill="#fedfb5" stroke="#fedfb5" stroke-width="0.5"/><path d="M725.28 228.57A117.80 117.80 0 0 1 763.50 254.10L749.61 267.99A98.17 98.17 0 0 0 717.77 246.71Z" fill="#fee2bc" stroke="#fee2bc" stroke-width="0.5"/><path d="M717.77 246.71A98.17 98.17 0 0 1 749.61 267.99L735.73 281.87A78.53 78.53 0 0 0 710.25 264.84Z" fill="#feeed6" stroke="#feeed6" stroke-width="0.5"/><path d="M710.25 264.84A78.53 78.53 0 0 1 735.73 281.87L721.85 295.75A58.90 58.90 0 0 0 702.74 282.98Z" fill="#fff3e2" stroke="#fff3e2" stroke-width="0.5"/><path d="M702.74 282.98A58.90 58.90 0 0 1 721.85 295.75L707.97 309.63A39.27 39.27 0 0 0 695.23 301.12Z" fill="#fff3e2" stroke="#fff3e2" stroke-width="0.5"/><path d="M805.15 212.45A176.70 176.70 0 0 1 843.45 269.78L825.31 277.29A157.07 157.07 0 0 0 791.26 226.34Z" fill="#fdd4a3" stroke="#fdd4a3" stroke-width="0.5"/><path d="M791.26 226.34A157.07 157.07 0 0 1 825.31 277.29L807.17 284.81A137.43 137.43 0 0 0 777.38 240.22Z" fill="#fdc492" stroke="#fdc492" stroke-width="0.5"/><path d="M777.38 240.22A137.43 137.43 0 0 1 807.17 284.81L789.03 292.32A117.80 117.80 0 0 0 763.50 254.10Z" fill="#fee9ca" stroke="#fee9ca" stroke-width="0.5"/><path d="M749.61 267.99A98.17 98.17 0 0 1 770.89 299.83L752.76 307.35A78.53 78.53 0 0 0 735.73 281.87Z" fill="#fff3e2" stroke="#fff3e2" stroke-width="0.5"/><path d="M735.73 281.87A78.53 78.53 0 0 1 752.76 307.35L734.62 314.86A58.90 58.90 0 0 0 721.85 295.75Z" fill="#fff3e2" stroke="#fff3e2" stroke-width="0.5"/><path d="M721.85 295.75A58.90 58.90 0 0 1 734.62 314.86L716.48 322.37A39.27 39.27 0 0 0 707.97 309.63Z" fill="#fff3e2" stroke="#fff3e2" stroke-width="0.5"/><path d="M843.45 269.78A176.70 176.70 0 0 1 856.90 337.40L837.27 337.40A157.07 157.07 0 0 0 825.31 277.29Z" fill="#fdd4a3" stroke="#fdd4a3" stroke-width="0.5"/><path d="M825.31 277.29A157.07 157.07 0 0 1 837.27 337.40L817.63 337.40A137.43 137.43 0 0 0 807.17 284.81Z" fill="#f47e5e" stroke="#f47e5e" stroke-width="0.5"/><path d="M807.17 284.81A137.43 137.43 0 0 1 817.63 337.40L798.00 337.40A117.80 117.80 0 0 0 789.03 292.32Z" fill="#fdcc9b" stroke="#fdcc9b" stroke-width="0.5"/><path d="M789.03 292.32A117.80 117.80 0 0 1 798.00 337.40L778.37 337.40A98.17 98.17 0 0 0 770.89 299.83Z" fill="#feeed6" stroke="#feeed6" stroke-width="0.5"/><path d="M716.48 322.37A39.27 39.27 0 0 1 719.47 337.40L699.83 337.40A19.63 19.63 0 0 0 698.34 329.89Z" fill="#fff3e2" stroke="#fff3e2" stroke-width="0.5"/><path d="M856.90 337.40A176.70 176.70 0 0 1 843.45 405.02L825.31 397.51A157.07 157.07 0 0 0 837.27 337.40Z" fill="#fdaf7f" stroke="#fdaf7f" stroke-width="0.5"/><path d="M837.27 337.40A157.07 157.07 0 0 1 825.31 397.51L807.17 389.99A137.43 137.43 0 0 0 817.63 337.40Z" fill="#fdcc9b" stroke="#fdcc9b" stroke-width="0.5"/><path d="M817.63 337.40A137.43 137.43 0 0 1 807.17 389.99L789.03 382.48A117.80 117.80 0 0 0 798.00 337.40Z" fill="#fdd4a3" stroke="#fdd4a3" stroke-width="0.5"/><path d="M798.00 337.40A117.80 117.80 0 0 1 789.03 382.48L770.89 374.97A98.17 98.17 0 0 0 778.37 337.40Z" fill="#fee9ca" stroke="#fee9ca" stroke-width="0.5"/><path d="M778.37 337.40A98.17 98.17 0 0 1 770.89 374.97L752.76 367.45A78.53 78.53 0 0 0 758.73 337.40Z" fill="#feeed6" stroke="#feeed6" stroke-width="0.5"/><path d="M758.73 337.40A78.53 78.53 0 0 1 752.76 367.45L734.62 359.94A58.90 58.90 0 0 0 739.10 337.40Z" fill="#feeed6" stroke="#feeed6" stroke-width="0.5"/><path d="M843.45 405.02A176.70 176.70 0 0 1 805.15 462.35L791.26 448.46A157.07 157.07 0 0 0 825.31 397.51Z" fill="#df4d3c" stroke="#df4d3c" stroke-width="0.5"/><path d="M825.31 397.51A157.07 157.07 0 0 1 791.26 448.46L777.38 434.58A137.43 137.43 0 0 0 807.17 389.99Z" fill="#f47e5e" stroke="#f47e5e" stroke-width="0.5"/><path d="M807.17 389.99A137.43 137.43 0 0 1 777.38 434.58L763.50 420.70A117.80 117.80 0 0 0 789.03 382.48Z" fill="#fdd4a3" stroke="#fdd4a3" stroke-width="0.5"/><path d="M789.03 382.48A117.80 117.80 0 0 1 763.50 420.70L749.61 406.81A98.17 98.17 0 0 0 770.89 374.97Z" fill="#feeed6" stroke="#feeed6" stroke-width="0.5"/><path d="M770.89 374.97A98.17 98.17 0 0 1 749.61 406.81L735.73 392.93A78.53 78.53 0 0 0 752.76 367.45Z" fill="#fee9ca" stroke="#fee9ca" stroke-width="0.5"/><path d="M752.76 367.45A78.53 78.53 0 0 1 735.73 392.93L721.85 379.05A58.90 58.90 0 0 0 734.62 359.94Z" fill="#fff3e2" stroke="#fff3e2" stroke-width="0.5"/><path d="M734.62 359.94A58.90 58.90 0 0 1 721.85 379.05L707.97 365.17A39.27 39.27 0 0 0 716.48 352.43Z" fill="#fff3e2" stroke="#fff3e2" stroke-width="0.5"/><path d="M805.15 462.35A176.70 176.70 0 0 1 747.82 500.65L740.31 482.51A157.07 157.07 0 0 0 791.26 448.46Z" fill="#df4d3c" stroke="#df4d3c" stroke-width="0.5"/><path d="M791.26 448.46A157.07 157.07 0 0 1 740.31 482.51L732.79 464.37A137.43 137.43 0 0 0 777.38 434.58Z" fill="#fda778" stroke="#fda778" stroke-width="0.5"/><path d="M777.38 434.58A137.43 137.43 0 0 1 732.79 464.37L725.28 446.23A117.80 117.80 0 0 0 763.50 420.70Z" fill="#fdc897" stroke="#fdc897" stroke-width="0.5"/><path d="M749.61 406.81A98.17 98.17 0 0 1 717.77 428.09L710.25 409.96A78.53 78.53 0 0 0 735.73 392.93Z" fill="#fff3e2" stroke="#fff3e2" stroke-width="0.5"/><path d="M735.73 392.93A78.53 78.53 0 0 1 710.25 409.96L702.74 391.82A58.90 58.90 0 0 0 721.85 379.05Z" fill="#fff3e2" stroke="#fff3e2" stroke-width="0.5"/><path d="M747.82 500.65A176.70 176.70 0 0 1 680.20 514.10L680.20 494.47A157.07 157.07 0 0 0 740.31 482.51Z" fill="#fdb786" stroke="#fdb786" stroke-width="0.5"/><path d="M740.31 482.51A157.07 157.07 0 0 1 680.20 494.47L680.20 474.83A137.43 137.43 0 0 0 732.79 464.37Z" fill="#fee2bc" stroke="#fee2bc" stroke-width="0.5"/><path d="M732.79 464.37A137.43 137.43 0 0 1 680.20 474.83L680.20 455.20A117.80 117.80 0 0 0 725.28 446.23Z" fill="#fff3e2" stroke="#fff3e2" stroke-width="0.5"/><path d="M725.28 446.23A117.80 117.80 0 0 1 680.20 455.20L680.20 435.57A98.17 98.17 0 0 0 717.77 428.09Z" fill="#fff3e2" stroke="#fff3e2" stroke-width="0.5"/><path d="M717.77 428.09A98.17 98.17 0 0 1 680.20 435.57L680.20 415.93A78.53 78.53 0 0 0 710.25 409.96Z" fill="#feeed6" stroke="#feeed6" stroke-width="0.5"/><path d="M695.23 373.68A39.27 39.27 0 0 1 680.20 376.67L680.20 357.03A19.63 19.63 0 0 0 687.71 355.54Z" fill="#fff3e2" stroke="#fff3e2" stroke-width="0.5"/><path d="M680.20 514.10A176.70 176.70 0 0 1 612.58 500.65L620.09 482.51A157.07 157.07 0 0 0 680.20 494.47Z" fill="#f88b64" stroke="#f88b64" stroke-width="0.5"/><path d="M680.20 494.47A157.07 157.07 0 0 1 620.09 482.51L627.61 464.37A137.43 137.43 0 0 0 680.20 474.83Z" fill="#fdb786" stroke="#fdb786" stroke-width="0.5"/><path d="M680.20 474.83A137.43 137.43 0 0 1 627.61 464.37L635.12 446.23A117.80 117.80 0 0 0 680.20 455.20Z" fill="#fee2bc" stroke="#fee2bc" stroke-width="0.5"/><path d="M680.20 455.20A117.80 117.80 0 0 1 635.12 446.23L642.63 428.09A98.17 98.17 0 0 0 680.20 435.57Z" fill="#feeed6" stroke="#feeed6" stroke-width="0.5"/><path d="M680.20 435.57A98.17 98.17 0 0 1 642.63 428.09L650.15 409.96A78.53 78.53 0 0 0 680.20 415.93Z" fill="#fee2bc" stroke="#fee2bc" stroke-width="0.5"/><path d="M612.58 500.65A176.70 176.70 0 0 1 555.25 462.35L569.14 448.46A157.07 157.07 0 0 0 620.09 482.51Z" fill="#fdcc9b" stroke="#fdcc9b" stroke-width="0.5"/><path d="M620.09 482.51A157.07 157.07 0 0 1 569.14 448.46L583.02 434.58A137.43 137.43 0 0 0 627.61 464.37Z" fill="#fee9ca" stroke="#fee9ca" stroke-width="0.5"/><path d="M627.61 464.37A137.43 137.43 0 0 1 583.02 434.58L596.90 420.70A117.80 117.80 0 0 0 635.12 446.23Z" fill="#fee9ca" stroke="#fee9ca" stroke-width="0.5"/><path d="M635.12 446.23A117.80 117.80 0 0 1 596.90 420.70L610.79 406.81A98.17 98.17 0 0 0 642.63 428.09Z" fill="#feeed6" stroke="#feeed6" stroke-width="0.5"/><path d="M642.63 428.09A98.17 98.17 0 0 1 610.79 406.81L624.67 392.93A78.53 78.53 0 0 0 650.15 409.96Z" fill="#fee2bc" stroke="#fee2bc" stroke-width="0.5"/><path d="M650.15 409.96A78.53 78.53 0 0 1 624.67 392.93L638.55 379.05A58.90 58.90 0 0 0 657.66 391.82Z" fill="#fff3e2" stroke="#fff3e2" stroke-width="0.5"/><path d="M657.66 391.82A58.90 58.90 0 0 1 638.55 379.05L652.43 365.17A39.27 39.27 0 0 0 665.17 373.68Z" fill="#fff3e2" stroke="#fff3e2" stroke-width="0.5"/><path d="M555.25 462.35A176.70 176.70 0 0 1 516.95 405.02L535.09 397.51A157.07 157.07 0 0 0 569.14 448.46Z" fill="#feeed6" stroke="#feeed6" stroke-width="0.5"/><path d="M569.14 448.46A157.07 157.07 0 0 1 535.09 397.51L553.23 389.99A137.43 137.43 0 0 0 583.02 434.58Z" fill="#feeed6" stroke="#feeed6" stroke-width="0.5"/><path d="M583.02 434.58A137.43 137.43 0 0 1 553.23 389.99L571.37 382.48A117.80 117.80 0 0 0 596.90 420.70Z" fill="#fee2bc" stroke="#fee2bc" stroke-width="0.5"/><path d="M596.90 420.70A117.80 117.80 0 0 1 571.37 382.48L589.51 374.97A98.17 98.17 0 0 0 610.79 406.81Z" fill="#feeed6" stroke="#feeed6" stroke-width="0.5"/><path d="M638.55 379.05A58.90 58.90 0 0 1 625.78 359.94L643.92 352.43A39.27 39.27 0 0 0 652.43 365.17Z" fill="#fff3e2" stroke="#fff3e2" stroke-width="0.5"/><path d="M516.95 405.02A176.70 176.70 0 0 1 503.50 337.40L523.13 337.40A157.07 157.07 0 0 0 535.09 397.51Z" fill="#fff3e2" stroke="#fff3e2" stroke-width="0.5"/><path d="M535.09 397.51A157.07 157.07 0 0 1 523.13 337.40L542.77 337.40A137.43 137.43 0 0 0 553.23 389.99Z" fill="#fff3e2" stroke="#fff3e2" stroke-width="0.5"/><path d="M553.23 389.99A137.43 137.43 0 0 1 542.77 337.40L562.40 337.40A117.80 117.80 0 0 0 571.37 382.48Z" fill="#feeed6" stroke="#feeed6" stroke-width="0.5"/><path d="M607.64 367.45A78.53 78.53 0 0 1 601.67 337.40L621.30 337.40A58.90 58.90 0 0 0 625.78 359.94Z" fill="#fff3e2" stroke="#fff3e2" stroke-width="0.5"/><path d="M625.78 359.94A58.90 58.90 0 0 1 621.30 337.40L640.93 337.40A39.27 39.27 0 0 0 643.92 352.43Z" fill="#fff3e2" stroke="#fff3e2" stroke-width="0.5"/><path d="M523.13 337.40A157.07 157.07 0 0 1 535.09 277.29L553.23 284.81A137.43 137.43 0 0 0 542.77 337.40Z" fill="#fff3e2" stroke="#fff3e2" stroke-width="0.5"/><path d="M582.03 337.40A98.17 98.17 0 0 1 589.51 299.83L607.64 307.35A78.53 78.53 0 0 0 601.67 337.40Z" fill="#fff3e2" stroke="#fff3e2" stroke-width="0.5"/><path d="M601.67 337.40A78.53 78.53 0 0 1 607.64 307.35L625.78 314.86A58.90 58.90 0 0 0 621.30 337.40Z" fill="#fff3e2" stroke="#fff3e2" stroke-width="0.5"/><path d="M535.09 277.29A157.07 157.07 0 0 1 569.14 226.34L583.02 240.22A137.43 137.43 0 0 0 553.23 284.81Z" fill="#feeed6" stroke="#feeed6" stroke-width="0.5"/><path d="M553.23 284.81A137.43 137.43 0 0 1 583.02 240.22L596.90 254.10A117.80 117.80 0 0 0 571.37 292.32Z" fill="#fee9ca" stroke="#fee9ca" stroke-width="0.5"/><path d="M571.37 292.32A117.80 117.80 0 0 1 596.90 254.10L610.79 267.99A98.17 98.17 0 0 0 589.51 299.83Z" fill="#feeed6" stroke="#feeed6" stroke-width="0.5"/><path d="M589.51 299.83A98.17 98.17 0 0 1 610.79 267.99L624.67 281.87A78.53 78.53 0 0 0 607.64 307.35Z" fill="#fddcaf" stroke="#fddcaf" stroke-width="0.5"/><path d="M607.64 307.35A78.53 78.53 0 0 1 624.67 281.87L638.55 295.75A58.90 58.90 0 0 0 625.78 314.86Z" fill="#fee9ca" stroke="#fee9ca" stroke-width="0.5"/><path d="M625.78 314.86A58.90 58.90 0 0 1 638.55 295.75L652.43 309.63A39.27 39.27 0 0 0 643.92 322.37Z" fill="#fff3e2" stroke="#fff3e2" stroke-width="0.5"/><path d="M643.92 322.37A39.27 39.27 0 0 1 652.43 309.63L666.32 323.52A19.63 19.63 0 0 0 662.06 329.89Z" fill="#fee2bc" stroke="#fee2bc" stroke-width="0.5"/><path d="M555.25 212.45A176.70 176.70 0 0 1 612.58 174.15L620.09 192.29A157.07 157.07 0 0 0 569.14 226.34Z" fill="#feeed6" stroke="#feeed6" stroke-width="0.5"/><path d="M569.14 226.34A157.07 157.07 0 0 1 620.09 192.29L627.61 210.43A137.43 137.43 0 0 0 583.02 240.22Z" fill="#fee2bc" stroke="#fee2bc" stroke-width="0.5"/><path d="M583.02 240.22A137.43 137.43 0 0 1 627.61 210.43L635.12 228.57A117.80 117.80 0 0 0 596.90 254.10Z" fill="#fee2bc" stroke="#fee2bc" stroke-width="0.5"/><path d="M596.90 254.10A117.80 117.80 0 0 1 635.12 228.57L642.63 246.71A98.17 98.17 0 0 0 610.79 267.99Z" fill="#feeed6" stroke="#feeed6" stroke-width="0.5"/><path d="M610.79 267.99A98.17 98.17 0 0 1 642.63 246.71L650.15 264.84A78.53 78.53 0 0 0 624.67 281.87Z" fill="#fff3e2" stroke="#fff3e2" stroke-width="0.5"/><path d="M624.67 281.87A78.53 78.53 0 0 1 650.15 264.84L657.66 282.98A58.90 58.90 0 0 0 638.55 295.75Z" fill="#feeed6" stroke="#feeed6" stroke-width="0.5"/><path d="M612.58 174.15A176.70 176.70 0 0 1 680.20 160.70L680.20 180.33A157.07 157.07 0 0 0 620.09 192.29Z" fill="#8c1a1a" stroke="#8c1a1a" stroke-width="0.5"/><path d="M620.09 192.29A157.07 157.07 0 0 1 680.20 180.33L680.20 199.97A137.43 137.43 0 0 0 627.61 210.43Z" fill="#fdc492" stroke="#fdc492" stroke-width="0.5"/><path d="M627.61 210.43A137.43 137.43 0 0 1 680.20 199.97L680.20 219.60A117.80 117.80 0 0 0 635.12 228.57Z" fill="#fc986a" stroke="#fc986a" stroke-width="0.5"/><path d="M635.12 228.57A117.80 117.80 0 0 1 680.20 219.60L680.20 239.23A98.17 98.17 0 0 0 642.63 246.71Z" fill="#feeed6" stroke="#feeed6" stroke-width="0.5"/><path d="M650.15 264.84A78.53 78.53 0 0 1 680.20 258.87L680.20 278.50A58.90 58.90 0 0 0 657.66 282.98Z" fill="#fff3e2" stroke="#fff3e2" stroke-width="0.5"/>
<path d="M680.20 160.70A176.70 176.70 0 0 1 747.82 174.15M680.20 180.33A157.07 157.07 0 0 1 740.31 192.29M680.20 160.70L680.20 180.33M747.82 174.15L740.31 192.29M680.20 180.33A157.07 157.07 0 0 1 740.31 192.29M680.20 199.97A137.43 137.43 0 0 1 732.79 210.43M680.20 180.33L680.20 199.97M740.31 192.29L732.79 210.43M680.20 199.97A137.43 137.43 0 0 1 732.79 210.43M680.20 219.60A117.80 117.80 0 0 1 725.28 228.57M680.20 199.97L680.20 219.60M732.79 210.43L725.28 228.57M680.20 219.60A117.80 117.80 0 0 1 725.28 228.57M680.20 239.23A98.17 98.17 0 0 1 717.77 246.71M680.20 219.60L680.20 239.23M725.28 228.57L717.77 246.71M680.20 278.50A58.90 58.90 0 0 1 702.74 282.98M680.20 298.13A39.27 39.27 0 0 1 695.23 301.12M680.20 278.50L680.20 298.13M702.74 282.98L695.23 301.12M747.82 174.15A176.70 176.70 0 0 1 805.15 212.45M740.31 192.29A157.07 157.07 0 0 1 791.26 226.34M747.82 174.15L740.31 192.29M805.15 212.45L791.26 226.34M740.31 192.29A157.07 157.07 0 0 1 791.26 226.34M732.79 210.43A137.43 137.43 0 0 1 777.38 240.22M740.31 192.29L732.79 210.43M791.26 226.34L777.38 240.22M732.79 210.43A137.43 137.43 0 0 1 777.38 240.22M725.28 228.57A117.80 117.80 0 0 1 763.50 254.10M732.79 210.43L725.28 228.57M777.38 240.22L763.50 254.10M725.28 228.57A117.80 117.80 0 0 1 763.50 254.10M717.77 246.71A98.17 98.17 0 0 1 749.61 267.99M725.28 228.57L717.77 246.71M763.50 254.10L749.61 267.99M717.77 246.71A98.17 98.17 0 0 1 749.61 267.99M710.25 264.84A78.53 78.53 0 0 1 735.73 281.87M717.77 246.71L710.25 264.84M749.61 267.99L735.73 281.87M710.25 264.84A78.53 78.53 0 0 1 735.73 281.87M702.74 282.98A58.90 58.90 0 0 1 721.85 295.75M710.25 264.84L702.74 282.98M735.73 281.87L721.85 295.75M702.74 282.98A58.90 58.90 0 0 1 721.85 295.75M695.23 301.12A39.27 39.27 0 0 1 707.97 309.63M702.74 282.98L695.23 301.12M721.85 295.75L707.97 309.63M805.15 212.45A176.70 176.70 0 0 1 843.45 269.78M791.26 226.34A157.07 157.07 0 0 1 825.31 277.29M805.15 212.45L791.26 226.34M843.45 269.78L825.31 277.29M791.26 226.34A157.07 157.07 0 0 1 825.31 277.29M777.38 240.22A137.43 137.43 0 0 1 807.17 284.81M791.26 226.34L777.38 240.22M825.31 277.29L807.17 284.81M777.38 240.22A137.43 137.43 0 0 1 807.17 284.81M763.50 254.10A117.80 117.80 0 0 1 789.03 292.32M777.38 240.22L763.50 254.10M807.17 284.81L789.03 292.32M749.61 267.99A98.17 98.17 0 0 1 770.89 299.83M735.73 281.87A78.53 78.53 0 0 1 752.76 307.35M749.61 267.99L735.73 281.87M770.89 299.83L752.76 307.35M735.73 281.87A78.53 78.53 0 0 1 752.76 307.35M721.85 295.75A58.90 58.90 0 0 1 734.62 314.86M735.73 281.87L721.85 295.75M752.76 307.35L734.62 314.86M721.85 295.75A58.90 58.90 0 0 1 734.62 314.86M707.97 309.63A39.27 39.27 0 0 1 716.48 322.37M721.85 295.75L707.97 309.63M734.62 314.86L716.48 322.37M843.45 269.78A176.70 176.70 0 0 1 856.90 337.40M825.31 277.29A157.07 157.07 0 0 1 837.27 337.40M843.45 269.78L825.31 277.29M825.31 277.29A157.07 157.07 0 0 1 837.27 337.40M807.17 284.81A137.43 137.43 0 0 1 817.63 337.40M825.31 277.29L807.17 284.81M807.17 284.81A137.43 137.43 0 0 1 817.63 337.40M789.03 292.32A117.80 117.80 0 0 1 798.00 337.40M807.17 284.81L789.03 292.32M789.03 292.32A117.80 117.80 0 0 1 798.00 337.40M770.89 299.83A98.17 98.17 0 0 1 778.37 337.40M789.03 292.32L770.89 299.83M716.48 322.37A39.27 39.27 0 0 1 719.47 337.40M698.34 329.89A19.63 19.63 0 0 1 699.83 337.40M716.48 322.37L698.34 329.89M856.90 337.40A176.70 176.70 0 0 1 843.45 405.02M837.27 337.40A157.07 157.07 0 0 1 825.31 397.51M843.45 405.02L825.31 397.51M837.27 337.40A157.07 157.07 0 0 1 825.31 397.51M817.63 337.40A137.43 137.43 0 0 1 807.17 389.99M825.31 397.51L807.17 389.99M817.63 337.40A137.43 137.43 0 0 1 807.17 389.99M798.00 337.40A117.80 117.80 0 0 1 789.03 382.48M807.17 389.99L789.03 382.48M798.00 337.40A117.80 117.80 0 0 1 789.03 382.48M778.37 337.40A98.17 98.17 0 0 1 770.89 374.97M789.03 382.48L770.89 374.97M778.37 337.40A98.17 98.17 0 0 1 770.89 374.97M758.73 337.40A78.53 78.53 0 0 1 752.76 367.45M770.89 374.97L752.76 367.45M758.73 337.40A78.53 78.53 0 0 1 752.76 367.45M739.10 337.40A58.90 58.90 0 0 1 734.62 359.94M752.76 367.45L734.62 359.94M843.45 405.02A176.70 176.70 0 0 1 805.15 462.35M825.31 397.51A157.07 157.07 0 0 1 791.26 448.46M843.45 405.02L825.31 397.51M805.15 462.35L791.26 448.46M825.31 397.51A157.07 157.07 0 0 1 791.26 448.46M807.17 389.99A137.43 137.43 0 0 1 777.38 434.58M825.31 397.51L807.17 389.99M791.26 448.46L777.38 434.58M807.17 389.99A137.43 137.43 0 0 1 777.38 434.58M789.03 382.48A117.80 117.80 0 0 1 763.50 420.70M807.17 389.99L789.03 382.48M777.38 434.58L763.50 420.70M789.03 382.48A117.80 117.80 0 0 1 763.50 420.70M770.89 374.97A98.17 98.17 0 0 1 749.61 406.81M789.03 382.48L770.89 374.97M763.50 420.70L749.61 406.81M770.89 374.97A98.17 98.17 0 0 1 749.61 406.81M752.76 367.45A78.53 78.53 0 0 1 735.73 392.93M770.89 374.97L752.76 367.45M749.61 406.81L735.73 392.93M752.76 367.45A78.53 78.53 0 0 1 735.73 392.93M734.62 359.94A58.90 58.90 0 0 1 721.85 379.05M752.76 367.45L734.62 359.94M735.73 392.93L721.85 379.05M734.62 359.94A58.90 58.90 0 0 1 721.85 379.05M716.48 352.43A39.27 39.27 0 0 1 707.97 365.17M734.62 359.94L716.48 352.43M721.85 379.05L707.97 365.17M805.15 462.35A176.70 176.70 0 0 1 747.82 500.65M791.26 448.46A157.07 157.07 0 0 1 740.31 482.51M805.15 462.35L791.26 448.46M747.82 500.65L740.31 482.51M791.26 448.46A157.07 157.07 0 0 1 740.31 482.51M777.38 434.58A137.43 137.43 0 0 1 732.79 464.37M791.26 448.46L777.38 434.58M740.31 482.51L732.79 464.37M777.38 434.58A137.43 137.43 0 0 1 732.79 464.37M763.50 420.70A117.80 117.80 0 0 1 725.28 446.23M777.38 434.58L763.50 420.70M732.79 464.37L725.28 446.23M749.61 406.81A98.17 98.17 0 0 1 717.77 428.09M735.73 392.93A78.53 78.53 0 0 1 710.25 409.96M749.61 406.81L735.73 392.93M717.77 428.09L710.25 409.96M735.73 392.93A78.53 78.53 0 0 1 710.25 409.96M721.85 379.05A58.90 58.90 0 0 1 702.74 391.82M735.73 392.93L721.85 379.05M710.25 409.96L702.74 391.82M747.82 500.65A176.70 176.70 0 0 1 680.20 514.10M740.31 482.51A157.07 157.07 0 0 1 680.20 494.47M747.82 500.65L740.31 482.51M680.20 514.10L680.20 494.47M740.31 482.51A157.07 157.07 0 0 1 680.20 494.47M732.79 464.37A137.43 137.43 0 0 1 680.20 474.83M740.31 482.51L732.79 464.37M680.20 494.47L680.20 474.83M732.79 464.37A137.43 137.43 0 0 1 680.20 474.83M725.28 446.23A117.80 117.80 0 0 1 680.20 455.20M732.79 464.37L725.28 446.23M680.20 474.83L680.20 455.20M725.28 446.23A117.80 117.80 0 0 1 680.20 455.20M717.77 428.09A98.17 98.17 0 0 1 680.20 435.57M725.28 446.23L717.77 428.09M680.20 455.20L680.20 435.57M717.77 428.09A98.17 98.17 0 0 1 680.20 435.57M710.25 409.96A78.53 78.53 0 0 1 680.20 415.93M717.77 428.09L710.25 409.96M680.20 435.57L680.20 415.93M695.23 373.68A39.27 39.27 0 0 1 680.20 376.67M687.71 355.54A19.63 19.63 0 0 1 680.20 357.03M695.23 373.68L687.71 355.54M680.20 376.67L680.20 357.03M680.20 514.10A176.70 176.70 0 0 1 612.58 500.65M680.20 494.47A157.07 157.07 0 0 1 620.09 482.51M680.20 514.10L680.20 494.47M612.58 500.65L620.09 482.51M680.20 494.47A157.07 157.07 0 0 1 620.09 482.51M680.20 474.83A137.43 137.43 0 0 1 627.61 464.37M680.20 494.47L680.20 474.83M620.09 482.51L627.61 464.37M680.20 474.83A137.43 137.43 0 0 1 627.61 464.37M680.20 455.20A117.80 117.80 0 0 1 635.12 446.23M680.20 474.83L680.20 455.20M627.61 464.37L635.12 446.23M680.20 455.20A117.80 117.80 0 0 1 635.12 446.23M680.20 435.57A98.17 98.17 0 0 1 642.63 428.09M680.20 455.20L680.20 435.57M635.12 446.23L642.63 428.09M680.20 435.57A98.17 98.17 0 0 1 642.63 428.09M680.20 415.93A78.53 78.53 0 0 1 650.15 409.96M680.20 435.57L680.20 415.93M642.63 428.09L650.15 409.96M612.58 500.65A176.70 176.70 0 0 1 555.25 462.35M620.09 482.51A157.07 157.07 0 0 1 569.14 448.46M612.58 500.65L620.09 482.51M555.25 462.35L569.14 448.46M620.09 482.51A157.07 157.07 0 0 1 569.14 448.46M627.61 464.37A137.43 137.43 0 0 1 583.02 434.58M620.09 482.51L627.61 464.37M569.14 448.46L583.02 434.58M627.61 464.37A137.43 137.43 0 0 1 583.02 434.58M635.12 446.23A117.80 117.80 0 0 1 596.90 420.70M627.61 464.37L635.12 446.23M583.02 434.58L596.90 420.70M635.12 446.23A117.80 117.80 0 0 1 596.90 420.70M642.63 428.09A98.17 98.17 0 0 1 610.79 406.81M635.12 446.23L642.63 428.09M596.90 420.70L610.79 406.81M642.63 428.09A98.17 98.17 0 0 1 610.79 406.81M650.15 409.96A78.53 78.53 0 0 1 624.67 392.93M642.63 428.09L650.15 409.96M610.79 406.81L624.67 392.93M650.15 409.96A78.53 78.53 0 0 1 624.67 392.93M657.66 391.82A58.90 58.90 0 0 1 638.55 379.05M650.15 409.96L657.66 391.82M624.67 392.93L638.55 379.05M657.66 391.82A58.90 58.90 0 0 1 638.55 379.05M665.17 373.68A39.27 39.27 0 0 1 652.43 365.17M657.66 391.82L665.17 373.68M638.55 379.05L652.43 365.17M555.25 462.35A176.70 176.70 0 0 1 516.95 405.02M569.14 448.46A157.07 157.07 0 0 1 535.09 397.51M555.25 462.35L569.14 448.46M516.95 405.02L535.09 397.51M569.14 448.46A157.07 157.07 0 0 1 535.09 397.51M583.02 434.58A137.43 137.43 0 0 1 553.23 389.99M569.14 448.46L583.02 434.58M535.09 397.51L553.23 389.99M583.02 434.58A137.43 137.43 0 0 1 553.23 389.99M596.90 420.70A117.80 117.80 0 0 1 571.37 382.48M583.02 434.58L596.90 420.70M553.23 389.99L571.37 382.48M596.90 420.70A117.80 117.80 0 0 1 571.37 382.48M610.79 406.81A98.17 98.17 0 0 1 589.51 374.97M596.90 420.70L610.79 406.81M571.37 382.48L589.51 374.97M638.55 379.05A58.90 58.90 0 0 1 625.78 359.94M652.43 365.17A39.27 39.27 0 0 1 643.92 352.43M638.55 379.05L652.43 365.17M625.78 359.94L643.92 352.43M516.95 405.02A176.70 176.70 0 0 1 503.50 337.40M535.09 397.51A157.07 157.07 0 0 1 523.13 337.40M516.95 405.02L535.09 397.51M503.50 337.40L523.13 337.40M535.09 397.51A157.07 157.07 0 0 1 523.13 337.40M553.23 389.99A137.43 137.43 0 0 1 542.77 337.40M535.09 397.51L553.23 389.99M523.13 337.40L542.77 337.40M553.23 389.99A137.43 137.43 0 0 1 542.77 337.40M571.37 382.48A117.80 117.80 0 0 1 562.40 337.40M553.23 389.99L571.37 382.48M542.77 337.40L562.40 337.40M607.64 367.45A78.53 78.53 0 0 1 601.67 337.40M625.78 359.94A58.90 58.90 0 0 1 621.30 337.40M607.64 367.45L625.78 359.94M601.67 337.40L621.30 337.40M625.78 359.94A58.90 58.90 0 0 1 621.30 337.40M643.92 352.43A39.27 39.27 0 0 1 640.93 337.40M625.78 359.94L643.92 352.43M621.30 337.40L640.93 337.40M523.13 337.40A157.07 157.07 0 0 1 535.09 277.29M542.77 337.40A137.43 137.43 0 0 1 553.23 284.81M523.13 337.40L542.77 337.40M535.09 277.29L553.23 284.81M582.03 337.40A98.17 98.17 0 0 1 589.51 299.83M601.67 337.40A78.53 78.53 0 0 1 607.64 307.35M582.03 337.40L601.67 337.40M589.51 299.83L607.64 307.35M601.67 337.40A78.53 78.53 0 0 1 607.64 307.35M621.30 337.40A58.90 58.90 0 0 1 625.78 314.86M601.67 337.40L621.30 337.40M607.64 307.35L625.78 314.86M535.09 277.29A157.07 157.07 0 0 1 569.14 226.34M553.23 284.81A137.43 137.43 0 0 1 583.02 240.22M535.09 277.29L553.23 284.81M569.14 226.34L583.02 240.22M553.23 284.81A137.43 137.43 0 0 1 583.02 240.22M571.37 292.32A117.80 117.80 0 0 1 596.90 254.10M553.23 284.81L571.37 292.32M583.02 240.22L596.90 254.10M571.37 292.32A117.80 117.80 0 0 1 596.90 254.10M589.51 299.83A98.17 98.17 0 0 1 610.79 267.99M571.37 292.32L589.51 299.83M596.90 254.10L610.79 267.99M589.51 299.83A98.17 98.17 0 0 1 610.79 267.99M607.64 307.35A78.53 78.53 0 0 1 624.67 281.87M589.51 299.83L607.64 307.35M610.79 267.99L624.67 281.87M607.64 307.35A78.53 78.53 0 0 1 624.67 281.87M625.78 314.86A58.90 58.90 0 0 1 638.55 295.75M607.64 307.35L625.78 314.86M624.67 281.87L638.55 295.75M625.78 314.86A58.90 58.90 0 0 1 638.55 295.75M643.92 322.37A39.27 39.27 0 0 1 652.43 309.63M625.78 314.86L643.92 322.37M638.55 295.75L652.43 309.63M643.92 322.37A39.27 39.27 0 0 1 652.43 309.63M662.06 329.89A19.63 19.63 0 0 1 666.32 323.52M643.92 322.37L662.06 329.89M652.43 309.63L666.32 323.52M555.25 212.45A176.70 176.70 0 0 1 612.58 174.15M569.14 226.34A157.07 157.07 0 0 1 620.09 192.29M555.25 212.45L569.14 226.34M612.58 174.15L620.09 192.29M569.14 226.34A157.07 157.07 0 0 1 620.09 192.29M583.02 240.22A137.43 137.43 0 0 1 627.61 210.43M569.14 226.34L583.02 240.22M620.09 192.29L627.61 210.43M583.02 240.22A137.43 137.43 0 0 1 627.61 210.43M596.90 254.10A117.80 117.80 0 0 1 635.12 228.57M583.02 240.22L596.90 254.10M627.61 210.43L635.12 228.57M596.90 254.10A117.80 117.80 0 0 1 635.12 228.57M610.79 267.99A98.17 98.17 0 0 1 642.63 246.71M596.90 254.10L610.79 267.99M635.12 228.57L642.63 246.71M610.79 267.99A98.17 98.17 0 0 1 642.63 246.71M624.67 281.87A78.53 78.53 0 0 1 650.15 264.84M610.79 267.99L624.67 281.87M642.63 246.71L650.15 264.84M624.67 281.87A78.53 78.53 0 0 1 650.15 264.84M638.55 295.75A58.90 58.90 0 0 1 657.66 282.98M624.67 281.87L638.55 295.75M650.15 264.84L657.66 282.98M612.58 174.15A176.70 176.70 0 0 1 680.20 160.70M620.09 192.29A157.07 157.07 0 0 1 680.20 180.33M612.58 174.15L620.09 192.29M680.20 160.70L680.20 180.33M620.09 192.29A157.07 157.07 0 0 1 680.20 180.33M627.61 210.43A137.43 137.43 0 0 1 680.20 199.97M620.09 192.29L627.61 210.43M680.20 180.33L680.20 199.97M627.61 210.43A137.43 137.43 0 0 1 680.20 199.97M635.12 228.57A117.80 117.80 0 0 1 680.20 219.60M627.61 210.43L635.12 228.57M680.20 199.97L680.20 219.60M635.12 228.57A117.80 117.80 0 0 1 680.20 219.60M642.63 246.71A98.17 98.17 0 0 1 680.20 239.23M635.12 228.57L642.63 246.71M680.20 219.60L680.20 239.23M650.15 264.84A78.53 78.53 0 0 1 680.20 258.87M657.66 282.98A58.90 58.90 0 0 1 680.20 278.50M650.15 264.84L657.66 282.98M680.20 258.87L680.20 278.50" fill="none" stroke="#000" stroke-width="0.72"/>
<g fill="none" stroke="#000" stroke-width="1.05" stroke-dasharray="2.1 6.2"><circle cx="680.20" cy="337.40" r="19.63"/><circle cx="680.20" cy="337.40" r="39.27"/><circle cx="680.20" cy="337.40" r="58.90"/><circle cx="680.20" cy="337.40" r="78.53"/><circle cx="680.20" cy="337.40" r="98.17"/><circle cx="680.20" cy="337.40" r="117.80"/><circle cx="680.20" cy="337.40" r="137.43"/><circle cx="680.20" cy="337.40" r="157.07"/><line x1="680.20" y1="337.40" x2="680.20" y2="160.70"/><line x1="680.20" y1="337.40" x2="747.82" y2="174.15"/><line x1="680.20" y1="337.40" x2="805.15" y2="212.45"/><line x1="680.20" y1="337.40" x2="843.45" y2="269.78"/><line x1="680.20" y1="337.40" x2="856.90" y2="337.40"/><line x1="680.20" y1="337.40" x2="843.45" y2="405.02"/><line x1="680.20" y1="337.40" x2="805.15" y2="462.35"/><line x1="680.20" y1="337.40" x2="747.82" y2="500.65"/><line x1="680.20" y1="337.40" x2="680.20" y2="514.10"/><line x1="680.20" y1="337.40" x2="612.58" y2="500.65"/><line x1="680.20" y1="337.40" x2="555.25" y2="462.35"/><line x1="680.20" y1="337.40" x2="516.95" y2="405.02"/><line x1="680.20" y1="337.40" x2="503.50" y2="337.40"/><line x1="680.20" y1="337.40" x2="516.95" y2="269.78"/><line x1="680.20" y1="337.40" x2="555.25" y2="212.45"/><line x1="680.20" y1="337.40" x2="612.58" y2="174.15"/></g>
<circle cx="680.20" cy="337.40" r="176.70" fill="none" stroke="#000" stroke-width="2.1"/>
<g fill="#000"><circle cx="670.8" cy="229.5" r="2.15"/><circle cx="677.4" cy="224.1" r="2.15"/><circle cx="603.0" cy="190.4" r="2.15"/><circle cx="617.9" cy="194.1" r="2.15"/><circle cx="607.4" cy="204.1" r="2.15"/><circle cx="600.0" cy="212.6" r="2.15"/><circle cx="621.3" cy="195.6" r="2.15"/><circle cx="609.1" cy="222.4" r="2.15"/><circle cx="613.5" cy="224.1" r="2.15"/><circle cx="624.4" cy="230.9" r="2.15"/><circle cx="631.0" cy="230.9" r="2.15"/><circle cx="609.1" cy="248.0" r="2.15"/><circle cx="622.5" cy="244.8" r="2.15"/><circle cx="613.9" cy="270.9" r="2.15"/><circle cx="636.2" cy="272.4" r="2.15"/><circle cx="653.0" cy="266.8" r="2.15"/><circle cx="550.8" cy="257.0" r="2.15"/><circle cx="573.9" cy="232.6" r="2.15"/><circle cx="578.1" cy="258.7" r="2.15"/><circle cx="570.8" cy="269.7" r="2.15"/><circle cx="578.6" cy="269.2" r="2.15"/><circle cx="581.3" cy="284.4" r="2.15"/><circle cx="583.0" cy="285.8" r="2.15"/><circle cx="598.8" cy="288.8" r="2.15"/><circle cx="600.0" cy="290.7" r="2.15"/><circle cx="606.6" cy="285.8" r="2.15"/><circle cx="605.4" cy="293.6" r="2.15"/><circle cx="625.7" cy="286.3" r="2.15"/><circle cx="622.7" cy="296.1" r="2.15"/><circle cx="631.8" cy="299.3" r="2.15"/><circle cx="642.7" cy="305.1" r="2.15"/><circle cx="649.6" cy="315.1" r="2.15"/><circle cx="659.8" cy="319.3" r="2.15"/><circle cx="648.1" cy="323.7" r="2.15"/><circle cx="662.3" cy="325.8" r="2.15"/><circle cx="536.6" cy="293.2" r="2.15"/><circle cx="598.8" cy="321.0" r="2.15"/><circle cx="608.1" cy="329.8" r="2.15"/><circle cx="616.6" cy="177.4" r="2.15"/><circle cx="619.4" cy="177.2" r="2.15"/><circle cx="637.8" cy="181.4" r="2.15"/><circle cx="643.0" cy="173.8" r="2.15"/><circle cx="647.6" cy="176.4" r="2.15"/><circle cx="651.4" cy="176.8" r="2.15"/><circle cx="655.0" cy="177.6" r="2.15"/><circle cx="657.8" cy="181.6" r="2.15"/><circle cx="664.6" cy="181.6" r="2.15"/><circle cx="659.0" cy="169.0" r="2.15"/><circle cx="664.6" cy="173.0" r="2.15"/><circle cx="671.2" cy="178.6" r="2.15"/><circle cx="673.2" cy="179.8" r="2.15"/><circle cx="677.8" cy="173.4" r="2.15"/><circle cx="652.0" cy="164.2" r="2.15"/><circle cx="671.8" cy="166.0" r="2.15"/><circle cx="673.0" cy="168.4" r="2.15"/><circle cx="661.6" cy="163.0" r="2.15"/><circle cx="664.6" cy="163.0" r="2.15"/><circle cx="666.4" cy="163.6" r="2.15"/><circle cx="641.8" cy="164.8" r="2.15"/><circle cx="641.4" cy="185.4" r="2.15"/><circle cx="671.8" cy="185.8" r="2.15"/><circle cx="628.6" cy="194.8" r="2.15"/><circle cx="644.8" cy="199.2" r="2.15"/><circle cx="631.8" cy="205.0" r="2.15"/><circle cx="677.2" cy="198.8" r="2.15"/><circle cx="624.2" cy="196.6" r="2.15"/><circle cx="652.0" cy="203.8" r="2.15"/><circle cx="658.0" cy="202.6" r="2.15"/><circle cx="659.2" cy="204.6" r="2.15"/><circle cx="666.2" cy="206.0" r="2.15"/><circle cx="672.8" cy="206.2" r="2.15"/><circle cx="648.4" cy="208.8" r="2.15"/><circle cx="650.6" cy="210.0" r="2.15"/><circle cx="635.8" cy="210.4" r="2.15"/><circle cx="636.6" cy="212.8" r="2.15"/><circle cx="643.2" cy="222.2" r="2.15"/><circle cx="684.8" cy="170.6" r="2.15"/><circle cx="689.8" cy="172.0" r="2.15"/><circle cx="693.6" cy="172.6" r="2.15"/><circle cx="691.6" cy="174.8" r="2.15"/><circle cx="688.6" cy="176.8" r="2.15"/><circle cx="696.4" cy="176.2" r="2.15"/><circle cx="699.8" cy="175.6" r="2.15"/><circle cx="708.6" cy="173.2" r="2.15"/><circle cx="709.0" cy="175.6" r="2.15"/><circle cx="705.6" cy="179.2" r="2.15"/><circle cx="715.8" cy="176.8" r="2.15"/><circle cx="719.0" cy="176.8" r="2.15"/><circle cx="734.8" cy="184.6" r="2.15"/><circle cx="736.0" cy="184.6" r="2.15"/><circle cx="707.0" cy="183.4" r="2.15"/><circle cx="682.0" cy="181.6" r="2.15"/><circle cx="682.6" cy="164.2" r="2.15"/><circle cx="684.4" cy="185.2" r="2.15"/><circle cx="691.0" cy="186.0" r="2.15"/><circle cx="696.2" cy="187.0" r="2.15"/><circle cx="693.8" cy="190.0" r="2.15"/><circle cx="686.8" cy="193.0" r="2.15"/><circle cx="701.6" cy="193.2" r="2.15"/><circle cx="711.6" cy="189.2" r="2.15"/><circle cx="717.8" cy="188.0" r="2.15"/><circle cx="707.0" cy="197.2" r="2.15"/><circle cx="714.6" cy="196.8" r="2.15"/><circle cx="725.0" cy="197.6" r="2.15"/><circle cx="722.8" cy="201.0" r="2.15"/><circle cx="728.8" cy="202.8" r="2.15"/><circle cx="689.6" cy="198.2" r="2.15"/><circle cx="682.0" cy="198.8" r="2.15"/><circle cx="730.0" cy="193.0" r="2.15"/><circle cx="684.2" cy="215.8" r="2.15"/><circle cx="695.0" cy="214.6" r="2.15"/><circle cx="710.0" cy="209.8" r="2.15"/><circle cx="723.2" cy="210.4" r="2.15"/><circle cx="722.4" cy="220.2" r="2.15"/><circle cx="687.2" cy="227.0" r="2.15"/><circle cx="687.2" cy="233.4" r="2.15"/><circle cx="698.2" cy="228.6" r="2.15"/><circle cx="699.8" cy="235.0" r="2.15"/><circle cx="714.0" cy="230.6" r="2.15"/><circle cx="719.4" cy="228.6" r="2.15"/><circle cx="717.0" cy="236.8" r="2.15"/><circle cx="742.0" cy="186.9" r="2.15"/><circle cx="745.2" cy="187.9" r="2.15"/><circle cx="749.5" cy="189.8" r="2.15"/><circle cx="753.2" cy="189.8" r="2.15"/><circle cx="755.3" cy="188.7" r="2.15"/><circle cx="758.8" cy="189.5" r="2.15"/><circle cx="771.6" cy="206.1" r="2.15"/><circle cx="791.3" cy="210.9" r="2.15"/><circle cx="746.5" cy="203.4" r="2.15"/><circle cx="748.7" cy="206.3" r="2.15"/><circle cx="750.0" cy="210.9" r="2.15"/><circle cx="759.3" cy="213.8" r="2.15"/><circle cx="762.5" cy="214.6" r="2.15"/><circle cx="783.6" cy="230.9" r="2.15"/><circle cx="734.8" cy="211.7" r="2.15"/><circle cx="748.1" cy="219.9" r="2.15"/><circle cx="751.9" cy="219.9" r="2.15"/><circle cx="767.9" cy="230.9" r="2.15"/><circle cx="770.8" cy="244.5" r="2.15"/><circle cx="774.8" cy="245.3" r="2.15"/><circle cx="761.5" cy="246.6" r="2.15"/><circle cx="736.4" cy="244.5" r="2.15"/><circle cx="738.3" cy="251.1" r="2.15"/><circle cx="748.7" cy="254.9" r="2.15"/><circle cx="754.0" cy="254.9" r="2.15"/><circle cx="803.9" cy="238.6" r="2.15"/><circle cx="806.8" cy="247.1" r="2.15"/><circle cx="804.7" cy="253.5" r="2.15"/><circle cx="810.8" cy="252.7" r="2.15"/><circle cx="814.0" cy="253.5" r="2.15"/><circle cx="815.3" cy="255.7" r="2.15"/><circle cx="819.3" cy="258.3" r="2.15"/><circle cx="830.3" cy="267.4" r="2.15"/><circle cx="839.3" cy="272.5" r="2.15"/><circle cx="800.4" cy="268.2" r="2.15"/><circle cx="809.5" cy="270.6" r="2.15"/><circle cx="807.9" cy="273.3" r="2.15"/><circle cx="811.9" cy="275.9" r="2.15"/><circle cx="822.5" cy="278.3" r="2.15"/><circle cx="797.2" cy="273.8" r="2.15"/><circle cx="803.9" cy="281.0" r="2.15"/><circle cx="683.4" cy="285.6" r="2.15"/><circle cx="696.8" cy="292.4" r="2.15"/><circle cx="727.3" cy="252.9" r="2.15"/><circle cx="729.2" cy="264.8" r="2.15"/><circle cx="710.2" cy="265.6" r="2.15"/><circle cx="708.0" cy="295.3" r="2.15"/><circle cx="757.3" cy="298.5" r="2.15"/><circle cx="741.9" cy="309.0" r="2.15"/><circle cx="714.6" cy="307.5" r="2.15"/><circle cx="710.0" cy="336.6" r="2.15"/><circle cx="788.9" cy="305.5" r="2.15"/><circle cx="797.3" cy="305.5" r="2.15"/><circle cx="799.6" cy="310.1" r="2.15"/><circle cx="803.5" cy="314.2" r="2.15"/><circle cx="803.3" cy="326.0" r="2.15"/><circle cx="814.7" cy="325.4" r="2.15"/><circle cx="809.5" cy="288.7" r="2.15"/><circle cx="810.0" cy="293.7" r="2.15"/><circle cx="829.1" cy="299.9" r="2.15"/><circle cx="821.6" cy="308.3" r="2.15"/><circle cx="816.9" cy="310.1" r="2.15"/><circle cx="822.5" cy="333.5" r="2.15"/><circle cx="825.3" cy="335.3" r="2.15"/><circle cx="828.1" cy="336.3" r="2.15"/><circle cx="830.9" cy="334.4" r="2.15"/><circle cx="833.7" cy="335.3" r="2.15"/><circle cx="828.5" cy="316.7" r="2.15"/><circle cx="827.2" cy="332.5" r="2.15"/><circle cx="835.6" cy="284.0" r="2.15"/><circle cx="836.2" cy="294.3" r="2.15"/><circle cx="834.3" cy="307.3" r="2.15"/><circle cx="843.1" cy="334.4" r="2.15"/><circle cx="849.2" cy="336.8" r="2.15"/><circle cx="786.7" cy="338.1" r="2.15"/><circle cx="844.0" cy="343.7" r="2.15"/><circle cx="845.5" cy="346.2" r="2.15"/><circle cx="841.8" cy="354.0" r="2.15"/><circle cx="845.9" cy="360.2" r="2.15"/><circle cx="847.4" cy="360.5" r="2.15"/><circle cx="838.8" cy="371.7" r="2.15"/><circle cx="843.6" cy="383.5" r="2.15"/><circle cx="838.0" cy="390.4" r="2.15"/><circle cx="840.8" cy="400.7" r="2.15"/><circle cx="823.5" cy="359.2" r="2.15"/><circle cx="828.7" cy="359.6" r="2.15"/><circle cx="821.6" cy="373.0" r="2.15"/><circle cx="828.1" cy="339.4" r="2.15"/><circle cx="831.5" cy="340.6" r="2.15"/><circle cx="835.6" cy="338.1" r="2.15"/><circle cx="798.8" cy="362.8" r="2.15"/><circle cx="794.5" cy="369.9" r="2.15"/><circle cx="797.0" cy="370.2" r="2.15"/><circle cx="802.9" cy="382.0" r="2.15"/><circle cx="808.0" cy="386.7" r="2.15"/><circle cx="788.4" cy="376.8" r="2.15"/><circle cx="792.7" cy="381.1" r="2.15"/><circle cx="774.0" cy="345.0" r="2.15"/><circle cx="775.9" cy="362.8" r="2.15"/><circle cx="744.1" cy="357.2" r="2.15"/><circle cx="751.0" cy="357.4" r="2.15"/><circle cx="820.3" cy="413.1" r="2.15"/><circle cx="822.0" cy="411.9" r="2.15"/><circle cx="825.6" cy="409.4" r="2.15"/><circle cx="828.5" cy="410.6" r="2.15"/><circle cx="831.7" cy="410.6" r="2.15"/><circle cx="832.2" cy="405.0" r="2.15"/><circle cx="826.1" cy="418.0" r="2.15"/><circle cx="811.7" cy="430.9" r="2.15"/><circle cx="811.7" cy="442.4" r="2.15"/><circle cx="813.4" cy="446.0" r="2.15"/><circle cx="806.6" cy="454.1" r="2.15"/><circle cx="819.5" cy="414.8" r="2.15"/><circle cx="823.4" cy="413.6" r="2.15"/><circle cx="817.1" cy="416.7" r="2.15"/><circle cx="814.6" cy="420.4" r="2.15"/><circle cx="811.5" cy="398.9" r="2.15"/><circle cx="805.4" cy="407.7" r="2.15"/><circle cx="808.5" cy="407.5" r="2.15"/><circle cx="803.7" cy="418.0" r="2.15"/><circle cx="804.4" cy="422.1" r="2.15"/><circle cx="807.3" cy="424.5" r="2.15"/><circle cx="809.8" cy="426.0" r="2.15"/><circle cx="813.9" cy="419.7" r="2.15"/><circle cx="792.7" cy="425.3" r="2.15"/><circle cx="804.4" cy="432.6" r="2.15"/><circle cx="793.9" cy="446.0" r="2.15"/><circle cx="791.5" cy="439.4" r="2.15"/><circle cx="786.1" cy="431.9" r="2.15"/><circle cx="803.7" cy="391.6" r="2.15"/><circle cx="796.8" cy="403.8" r="2.15"/><circle cx="791.9" cy="410.6" r="2.15"/><circle cx="772.7" cy="419.7" r="2.15"/><circle cx="774.9" cy="422.8" r="2.15"/><circle cx="770.7" cy="428.9" r="2.15"/><circle cx="778.8" cy="396.0" r="2.15"/><circle cx="761.7" cy="384.3" r="2.15"/><circle cx="764.1" cy="388.7" r="2.15"/><circle cx="761.7" cy="372.3" r="2.15"/><circle cx="743.9" cy="374.5" r="2.15"/><circle cx="732.2" cy="361.4" r="2.15"/><circle cx="721.9" cy="380.6" r="2.15"/><circle cx="795.9" cy="466.8" r="2.15"/><circle cx="790.7" cy="467.5" r="2.15"/><circle cx="787.8" cy="468.7" r="2.15"/><circle cx="785.4" cy="470.9" r="2.15"/><circle cx="786.1" cy="474.8" r="2.15"/><circle cx="780.0" cy="474.6" r="2.15"/><circle cx="772.7" cy="474.1" r="2.15"/><circle cx="773.2" cy="476.5" r="2.15"/><circle cx="771.9" cy="484.3" r="2.15"/><circle cx="762.2" cy="483.8" r="2.15"/><circle cx="764.6" cy="491.2" r="2.15"/><circle cx="758.5" cy="493.6" r="2.15"/><circle cx="752.4" cy="495.3" r="2.15"/><circle cx="754.1" cy="474.8" r="2.15"/><circle cx="777.3" cy="466.8" r="2.15"/><circle cx="771.2" cy="449.7" r="2.15"/><circle cx="770.2" cy="455.3" r="2.15"/><circle cx="782.4" cy="450.2" r="2.15"/><circle cx="758.0" cy="459.4" r="2.15"/><circle cx="762.7" cy="458.7" r="2.15"/><circle cx="774.4" cy="459.0" r="2.15"/><circle cx="768.8" cy="463.1" r="2.15"/><circle cx="757.3" cy="463.1" r="2.15"/><circle cx="751.7" cy="465.5" r="2.15"/><circle cx="776.8" cy="466.3" r="2.15"/><circle cx="748.8" cy="442.4" r="2.15"/><circle cx="756.8" cy="444.8" r="2.15"/><circle cx="749.2" cy="448.9" r="2.15"/><circle cx="741.0" cy="452.1" r="2.15"/><circle cx="730.5" cy="447.2" r="2.15"/><circle cx="731.7" cy="456.3" r="2.15"/><circle cx="733.4" cy="408.7" r="2.15"/><circle cx="711.4" cy="501.7" r="2.15"/><circle cx="716.6" cy="500.9" r="2.15"/><circle cx="722.4" cy="499.0" r="2.15"/><circle cx="727.5" cy="498.0" r="2.15"/><circle cx="739.0" cy="490.4" r="2.15"/><circle cx="739.0" cy="497.7" r="2.15"/><circle cx="684.1" cy="497.3" r="2.15"/><circle cx="680.9" cy="500.9" r="2.15"/><circle cx="695.1" cy="479.4" r="2.15"/><circle cx="715.3" cy="479.4" r="2.15"/><circle cx="713.4" cy="489.9" r="2.15"/><circle cx="732.2" cy="481.4" r="2.15"/><circle cx="689.7" cy="468.7" r="2.15"/><circle cx="693.1" cy="449.7" r="2.15"/><circle cx="714.6" cy="429.4" r="2.15"/><circle cx="699.5" cy="418.0" r="2.15"/><circle cx="689.5" cy="368.7" r="2.15"/><circle cx="618.3" cy="499.0" r="2.15"/><circle cx="627.6" cy="499.7" r="2.15"/><circle cx="633.0" cy="498.5" r="2.15"/><circle cx="637.1" cy="502.1" r="2.15"/><circle cx="642.3" cy="500.9" r="2.15"/><circle cx="646.4" cy="503.4" r="2.15"/><circle cx="656.9" cy="505.3" r="2.15"/><circle cx="672.5" cy="499.0" r="2.15"/><circle cx="672.5" cy="505.8" r="2.15"/><circle cx="676.9" cy="505.8" r="2.15"/><circle cx="680.6" cy="500.2" r="2.15"/><circle cx="629.3" cy="475.3" r="2.15"/><circle cx="641.5" cy="480.2" r="2.15"/><circle cx="648.8" cy="477.3" r="2.15"/><circle cx="654.2" cy="481.6" r="2.15"/><circle cx="656.9" cy="480.9" r="2.15"/><circle cx="647.6" cy="486.8" r="2.15"/><circle cx="667.1" cy="483.8" r="2.15"/><circle cx="672.0" cy="480.9" r="2.15"/><circle cx="673.2" cy="485.1" r="2.15"/><circle cx="661.5" cy="466.3" r="2.15"/><circle cx="670.8" cy="462.6" r="2.15"/><circle cx="674.0" cy="457.0" r="2.15"/><circle cx="639.1" cy="449.2" r="2.15"/><circle cx="636.6" cy="446.0" r="2.15"/><circle cx="659.3" cy="444.8" r="2.15"/><circle cx="654.9" cy="416.0" r="2.15"/><circle cx="676.2" cy="421.1" r="2.15"/><circle cx="670.8" cy="428.5" r="2.15"/><circle cx="651.3" cy="428.9" r="2.15"/><circle cx="576.9" cy="459.4" r="2.15"/><circle cx="589.8" cy="464.3" r="2.15"/><circle cx="607.4" cy="476.5" r="2.15"/><circle cx="578.6" cy="481.4" r="2.15"/><circle cx="590.3" cy="488.2" r="2.15"/><circle cx="593.2" cy="488.7" r="2.15"/><circle cx="609.8" cy="498.0" r="2.15"/><circle cx="613.5" cy="499.0" r="2.15"/><circle cx="598.8" cy="461.9" r="2.15"/><circle cx="603.2" cy="456.5" r="2.15"/><circle cx="615.4" cy="448.5" r="2.15"/><circle cx="604.4" cy="428.5" r="2.15"/><circle cx="602.5" cy="433.8" r="2.15"/><circle cx="633.0" cy="424.1" r="2.15"/><circle cx="607.4" cy="413.8" r="2.15"/><circle cx="624.4" cy="416.0" r="2.15"/><circle cx="633.7" cy="416.7" r="2.15"/><circle cx="639.8" cy="416.3" r="2.15"/><circle cx="643.5" cy="415.0" r="2.15"/><circle cx="637.9" cy="383.8" r="2.15"/><circle cx="650.1" cy="375.7" r="2.15"/><circle cx="548.1" cy="441.6" r="2.15"/><circle cx="555.6" cy="451.6" r="2.15"/><circle cx="554.9" cy="424.1" r="2.15"/><circle cx="543.2" cy="403.8" r="2.15"/><circle cx="566.6" cy="407.7" r="2.15"/><circle cx="571.5" cy="413.1" r="2.15"/><circle cx="577.6" cy="413.1" r="2.15"/><circle cx="581.0" cy="411.4" r="2.15"/><circle cx="592.7" cy="397.2" r="2.15"/><circle cx="598.8" cy="412.6" r="2.15"/><circle cx="644.0" cy="360.1" r="2.15"/><circle cx="529.3" cy="398.9" r="2.15"/><circle cx="542.0" cy="363.5" r="2.15"/><circle cx="545.6" cy="354.0" r="2.15"/><circle cx="551.7" cy="373.6" r="2.15"/><circle cx="608.6" cy="344.3" r="2.15"/><circle cx="624.9" cy="339.9" r="2.15"/></g>
<g fill="#ff3333"><circle cx="800.0" cy="281.0" r="1.45"/><circle cx="756.6" cy="431.4" r="1.45"/></g>
<circle cx="680.20" cy="337.40" r="2" fill="#000"/>
<text x="680.2" y="143.3" font-size="20.8" text-anchor="middle">N</text>
<text x="821.4" y="201.8" font-size="20.8" text-anchor="middle">NE</text>
<text x="879.9" y="343.0" font-size="20.8" text-anchor="middle">E</text>
<text x="821.4" y="484.2" font-size="20.8" text-anchor="middle">SE</text>
<text x="680.2" y="542.7" font-size="20.8" text-anchor="middle">S</text>
<text x="539.0" y="484.2" font-size="20.8" text-anchor="middle">SW</text>
<text x="481.4" y="343.0" font-size="20.8" text-anchor="middle">W</text>
<text x="539.0" y="201.8" font-size="20.8" text-anchor="middle">NW</text>
<text x="713.3" y="333.0" font-size="20.8" text-anchor="middle">80</text>
<text x="752.6" y="333.0" font-size="20.8" text-anchor="middle">60</text>
<text x="791.9" y="333.0" font-size="20.8" text-anchor="middle">40</text>
<text x="831.1" y="333.0" font-size="20.8" text-anchor="middle">20</text>
<text x="680.2" y="81.7" font-size="25" text-anchor="middle">W6LHI_433Mhz_2</text>
<text x="680.2" y="110.8" font-size="25" text-anchor="middle">400 Total Packets</text>
<rect x="503.50" y="619" width="353.40" height="17" fill="url(#g)" stroke="#000" stroke-width="2.1"/>
<text x="503.5" y="664" font-size="25" text-anchor="middle">0</text>
<text x="856.9" y="664" font-size="25" text-anchor="middle">22</text>
<text x="680.2" y="698.5" font-size="25" text-anchor="middle">#Packets/Direction</text>
</g>
<g>
<path d="M1123.50 160.70A176.70 176.70 0 0 1 1191.12 174.15L1183.61 192.29A157.07 157.07 0 0 0 1123.50 180.33Z" fill="#c92d26" stroke="#c92d26" stroke-width="0.5"/><path d="M1123.50 180.33A157.07 157.07 0 0 1 1183.61 192.29L1176.09 210.43A137.43 137.43 0 0 0 1123.50 199.97Z" fill="#fdc492" stroke="#fdc492" stroke-width="0.5"/><path d="M1123.50 199.97A137.43 137.43 0 0 1 1176.09 210.43L1168.58 228.57A117.80 117.80 0 0 0 1123.50 219.60Z" fill="#fee2bc" stroke="#fee2bc" stroke-width="0.5"/><path d="M1123.50 219.60A117.80 117.80 0 0 1 1168.58 228.57L1161.07 246.71A98.17 98.17 0 0 0 1123.50 239.23Z" fill="#fdc492" stroke="#fdc492" stroke-width="0.5"/><path d="M1191.12 174.15A176.70 176.70 0 0 1 1248.45 212.45L1234.56 226.34A157.07 157.07 0 0 0 1183.61 192.29Z" fill="#fda778" stroke="#fda778" stroke-width="0.5"/><path d="M1183.61 192.29A157.07 157.07 0 0 1 1234.56 226.34L1220.68 240.22A137.43 137.43 0 0 0 1176.09 210.43Z" fill="#fee2bc" stroke="#fee2bc" stroke-width="0.5"/><path d="M1176.09 210.43A137.43 137.43 0 0 1 1220.68 240.22L1206.80 254.10A117.80 117.80 0 0 0 1168.58 228.57Z" fill="#fdd4a3" stroke="#fdd4a3" stroke-width="0.5"/><path d="M1168.58 228.57A117.80 117.80 0 0 1 1206.80 254.10L1192.91 267.99A98.17 98.17 0 0 0 1161.07 246.71Z" fill="#fee2bc" stroke="#fee2bc" stroke-width="0.5"/><path d="M1161.07 246.71A98.17 98.17 0 0 1 1192.91 267.99L1179.03 281.87A78.53 78.53 0 0 0 1153.55 264.84Z" fill="#feeed6" stroke="#feeed6" stroke-width="0.5"/><path d="M1146.04 282.98A58.90 58.90 0 0 1 1165.15 295.75L1151.27 309.63A39.27 39.27 0 0 0 1138.53 301.12Z" fill="#feeed6" stroke="#feeed6" stroke-width="0.5"/><path d="M1248.45 212.45A176.70 176.70 0 0 1 1286.75 269.78L1268.61 277.29A157.07 157.07 0 0 0 1234.56 226.34Z" fill="#f88b64" stroke="#f88b64" stroke-width="0.5"/><path d="M1234.56 226.34A157.07 157.07 0 0 1 1268.61 277.29L1250.47 284.81A137.43 137.43 0 0 0 1220.68 240.22Z" fill="#fdd4a3" stroke="#fdd4a3" stroke-width="0.5"/><path d="M1220.68 240.22A137.43 137.43 0 0 1 1250.47 284.81L1232.33 292.32A117.80 117.80 0 0 0 1206.80 254.10Z" fill="#feeed6" stroke="#feeed6" stroke-width="0.5"/><path d="M1206.80 254.10A117.80 117.80 0 0 1 1232.33 292.32L1214.19 299.83A98.17 98.17 0 0 0 1192.91 267.99Z" fill="#feeed6" stroke="#feeed6" stroke-width="0.5"/><path d="M1192.91 267.99A98.17 98.17 0 0 1 1214.19 299.83L1196.06 307.35A78.53 78.53 0 0 0 1179.03 281.87Z" fill="#fee2bc" stroke="#fee2bc" stroke-width="0.5"/><path d="M1165.15 295.75A58.90 58.90 0 0 1 1177.92 314.86L1159.78 322.37A39.27 39.27 0 0 0 1151.27 309.63Z" fill="#feeed6" stroke="#feeed6" stroke-width="0.5"/><path d="M1286.75 269.78A176.70 176.70 0 0 1 1300.20 337.40L1280.57 337.40A157.07 157.07 0 0 0 1268.61 277.29Z" fill="#c92d26" stroke="#c92d26" stroke-width="0.5"/><path d="M1268.61 277.29A157.07 157.07 0 0 1 1280.57 337.40L1260.93 337.40A137.43 137.43 0 0 0 1250.47 284.81Z" fill="#fdc492" stroke="#fdc492" stroke-width="0.5"/><path d="M1250.47 284.81A137.43 137.43 0 0 1 1260.93 337.40L1241.30 337.40A117.80 117.80 0 0 0 1232.33 292.32Z" fill="#fdc492" stroke="#fdc492" stroke-width="0.5"/><path d="M1232.33 292.32A117.80 117.80 0 0 1 1241.30 337.40L1221.67 337.40A98.17 98.17 0 0 0 1214.19 299.83Z" fill="#fee2bc" stroke="#fee2bc" stroke-width="0.5"/><path d="M1214.19 299.83A98.17 98.17 0 0 1 1221.67 337.40L1202.03 337.40A78.53 78.53 0 0 0 1196.06 307.35Z" fill="#feeed6" stroke="#feeed6" stroke-width="0.5"/><path d="M1159.78 322.37A39.27 39.27 0 0 1 1162.77 337.40L1143.13 337.40A19.63 19.63 0 0 0 1141.64 329.89Z" fill="#feeed6" stroke="#feeed6" stroke-width="0.5"/><path d="M1300.20 337.40A176.70 176.70 0 0 1 1286.75 405.02L1268.61 397.51A157.07 157.07 0 0 0 1280.57 337.40Z" fill="#fdd4a3" stroke="#fdd4a3" stroke-width="0.5"/><path d="M1280.57 337.40A157.07 157.07 0 0 1 1268.61 397.51L1250.47 389.99A137.43 137.43 0 0 0 1260.93 337.40Z" fill="#fee2bc" stroke="#fee2bc" stroke-width="0.5"/><path d="M1260.93 337.40A137.43 137.43 0 0 1 1250.47 389.99L1232.33 382.48A117.80 117.80 0 0 0 1241.30 337.40Z" fill="#fddcaf" stroke="#fddcaf" stroke-width="0.5"/><path d="M1241.30 337.40A117.80 117.80 0 0 1 1232.33 382.48L1214.19 374.97A98.17 98.17 0 0 0 1221.67 337.40Z" fill="#fee2bc" stroke="#fee2bc" stroke-width="0.5"/><path d="M1202.03 337.40A78.53 78.53 0 0 1 1196.06 367.45L1177.92 359.94A58.90 58.90 0 0 0 1182.40 337.40Z" fill="#fee2bc" stroke="#fee2bc" stroke-width="0.5"/><path d="M1143.13 337.40A19.63 19.63 0 0 1 1141.64 344.91L1123.50 337.40A0.00 0.00 0 0 0 1123.50 337.40Z" fill="#feeed6" stroke="#feeed6" stroke-width="0.5"/><path d="M1286.75 405.02A176.70 176.70 0 0 1 1248.45 462.35L1234.56 448.46A157.07 157.07 0 0 0 1268.61 397.51Z" fill="#f88b64" stroke="#f88b64" stroke-width="0.5"/><path d="M1268.61 397.51A157.07 157.07 0 0 1 1234.56 448.46L1220.68 434.58A137.43 137.43 0 0 0 1250.47 389.99Z" fill="#fdd4a3" stroke="#fdd4a3" stroke-width="0.5"/><path d="M1250.47 389.99A137.43 137.43 0 0 1 1220.68 434.58L1206.80 420.70A117.80 117.80 0 0 0 1232.33 382.48Z" fill="#feeed6" stroke="#feeed6" stroke-width="0.5"/><path d="M1214.19 374.97A98.17 98.17 0 0 1 1192.91 406.81L1179.03 392.93A78.53 78.53 0 0 0 1196.06 367.45Z" fill="#feeed6" stroke="#feeed6" stroke-width="0.5"/><path d="M1177.92 359.94A58.90 58.90 0 0 1 1165.15 379.05L1151.27 365.17A39.27 39.27 0 0 0 1159.78 352.43Z" fill="#fee2bc" stroke="#fee2bc" stroke-width="0.5"/><path d="M1248.45 462.35A176.70 176.70 0 0 1 1191.12 500.65L1183.61 482.51A157.07 157.07 0 0 0 1234.56 448.46Z" fill="#fda778" stroke="#fda778" stroke-width="0.5"/><path d="M1234.56 448.46A157.07 157.07 0 0 1 1183.61 482.51L1176.09 464.37A137.43 137.43 0 0 0 1220.68 434.58Z" fill="#fda778" stroke="#fda778" stroke-width="0.5"/><path d="M1220.68 434.58A137.43 137.43 0 0 1 1176.09 464.37L1168.58 446.23A117.80 117.80 0 0 0 1206.80 420.70Z" fill="#feeed6" stroke="#feeed6" stroke-width="0.5"/><path d="M1206.80 420.70A117.80 117.80 0 0 1 1168.58 446.23L1161.07 428.09A98.17 98.17 0 0 0 1192.91 406.81Z" fill="#feeed6" stroke="#feeed6" stroke-width="0.5"/><path d="M1179.03 392.93A78.53 78.53 0 0 1 1153.55 409.96L1146.04 391.82A58.90 58.90 0 0 0 1165.15 379.05Z" fill="#feeed6" stroke="#feeed6" stroke-width="0.5"/><path d="M1165.15 379.05A58.90 58.90 0 0 1 1146.04 391.82L1138.53 373.68A39.27 39.27 0 0 0 1151.27 365.17Z" fill="#feeed6" stroke="#feeed6" stroke-width="0.5"/><path d="M1191.12 500.65A176.70 176.70 0 0 1 1123.50 514.10L1123.50 494.47A157.07 157.07 0 0 0 1183.61 482.51Z" fill="#fda778" stroke="#fda778" stroke-width="0.5"/><path d="M1183.61 482.51A157.07 157.07 0 0 1 1123.50 494.47L1123.50 474.83A137.43 137.43 0 0 0 1176.09 464.37Z" fill="#fdc492" stroke="#fdc492" stroke-width="0.5"/><path d="M1168.58 446.23A117.80 117.80 0 0 1 1123.50 455.20L1123.50 435.57A98.17 98.17 0 0 0 1161.07 428.09Z" fill="#feeed6" stroke="#feeed6" stroke-width="0.5"/><path d="M1161.07 428.09A98.17 98.17 0 0 1 1123.50 435.57L1123.50 415.93A78.53 78.53 0 0 0 1153.55 409.96Z" fill="#feeed6" stroke="#feeed6" stroke-width="0.5"/><path d="M1138.53 373.68A39.27 39.27 0 0 1 1123.50 376.67L1123.50 357.03A19.63 19.63 0 0 0 1131.01 355.54Z" fill="#feeed6" stroke="#feeed6" stroke-width="0.5"/><path d="M1123.50 514.10A176.70 176.70 0 0 1 1055.88 500.65L1063.39 482.51A157.07 157.07 0 0 0 1123.50 494.47Z" fill="#8c1a1a" stroke="#8c1a1a" stroke-width="0.5"/><path d="M1123.50 494.47A157.07 157.07 0 0 1 1063.39 482.51L1070.91 464.37A137.43 137.43 0 0 0 1123.50 474.83Z" fill="#fdd4a3" stroke="#fdd4a3" stroke-width="0.5"/><path d="M1123.50 455.20A117.80 117.80 0 0 1 1078.42 446.23L1085.93 428.09A98.17 98.17 0 0 0 1123.50 435.57Z" fill="#feeed6" stroke="#feeed6" stroke-width="0.5"/><path d="M1123.50 435.57A98.17 98.17 0 0 1 1085.93 428.09L1093.45 409.96A78.53 78.53 0 0 0 1123.50 415.93Z" fill="#feeed6" stroke="#feeed6" stroke-width="0.5"/><path d="M1123.50 357.03A19.63 19.63 0 0 1 1115.99 355.54L1123.50 337.40A0.00 0.00 0 0 0 1123.50 337.40Z" fill="#feeed6" stroke="#feeed6" stroke-width="0.5"/><path d="M1055.88 500.65A176.70 176.70 0 0 1 998.55 462.35L1012.44 448.46A157.07 157.07 0 0 0 1063.39 482.51Z" fill="#fdc492" stroke="#fdc492" stroke-width="0.5"/><path d="M1063.39 482.51A157.07 157.07 0 0 1 1012.44 448.46L1026.32 434.58A137.43 137.43 0 0 0 1070.91 464.37Z" fill="#fee9ca" stroke="#fee9ca" stroke-width="0.5"/><path d="M1078.42 446.23A117.80 117.80 0 0 1 1040.20 420.70L1054.09 406.81A98.17 98.17 0 0 0 1085.93 428.09Z" fill="#feeed6" stroke="#feeed6" stroke-width="0.5"/><path d="M1085.93 428.09A98.17 98.17 0 0 1 1054.09 406.81L1067.97 392.93A78.53 78.53 0 0 0 1093.45 409.96Z" fill="#feeed6" stroke="#feeed6" stroke-width="0.5"/><path d="M1026.32 434.58A137.43 137.43 0 0 1 996.53 389.99L1014.67 382.48A117.80 117.80 0 0 0 1040.20 420.70Z" fill="#fee2bc" stroke="#fee2bc" stroke-width="0.5"/><path d="M1050.94 367.45A78.53 78.53 0 0 1 1044.97 337.40L1064.60 337.40A58.90 58.90 0 0 0 1069.08 359.94Z" fill="#feeed6" stroke="#feeed6" stroke-width="0.5"/><path d="M1069.08 359.94A58.90 58.90 0 0 1 1064.60 337.40L1084.23 337.40A39.27 39.27 0 0 0 1087.22 352.43Z" fill="#fee2bc" stroke="#fee2bc" stroke-width="0.5"/><path d="M1032.81 299.83A98.17 98.17 0 0 1 1054.09 267.99L1067.97 281.87A78.53 78.53 0 0 0 1050.94 307.35Z" fill="#fee2bc" stroke="#fee2bc" stroke-width="0.5"/><path d="M1050.94 307.35A78.53 78.53 0 0 1 1067.97 281.87L1081.85 295.75A58.90 58.90 0 0 0 1069.08 314.86Z" fill="#fee2bc" stroke="#fee2bc" stroke-width="0.5"/><path d="M1087.22 322.37A39.27 39.27 0 0 1 1095.73 309.63L1109.62 323.52A19.63 19.63 0 0 0 1105.36 329.89Z" fill="#fee2bc" stroke="#fee2bc" stroke-width="0.5"/><path d="M1012.44 226.34A157.07 157.07 0 0 1 1063.39 192.29L1070.91 210.43A137.43 137.43 0 0 0 1026.32 240.22Z" fill="#feeed6" stroke="#feeed6" stroke-width="0.5"/><path d="M1026.32 240.22A137.43 137.43 0 0 1 1070.91 210.43L1078.42 228.57A117.80 117.80 0 0 0 1040.20 254.10Z" fill="#feeed6" stroke="#feeed6" stroke-width="0.5"/><path d="M1040.20 254.10A117.80 117.80 0 0 1 1078.42 228.57L1085.93 246.71A98.17 98.17 0 0 0 1054.09 267.99Z" fill="#feeed6" stroke="#feeed6" stroke-width="0.5"/><path d="M1054.09 267.99A98.17 98.17 0 0 1 1085.93 246.71L1093.45 264.84A78.53 78.53 0 0 0 1067.97 281.87Z" fill="#feeed6" stroke="#feeed6" stroke-width="0.5"/><path d="M1067.97 281.87A78.53 78.53 0 0 1 1093.45 264.84L1100.96 282.98A58.90 58.90 0 0 0 1081.85 295.75Z" fill="#feeed6" stroke="#feeed6" stroke-width="0.5"/><path d="M1055.88 174.15A176.70 176.70 0 0 1 1123.50 160.70L1123.50 180.33A157.07 157.07 0 0 0 1063.39 192.29Z" fill="#8c1a1a" stroke="#8c1a1a" stroke-width="0.5"/><path d="M1063.39 192.29A157.07 157.07 0 0 1 1123.50 180.33L1123.50 199.97A137.43 137.43 0 0 0 1070.91 210.43Z" fill="#fda778" stroke="#fda778" stroke-width="0.5"/><path d="M1070.91 210.43A137.43 137.43 0 0 1 1123.50 199.97L1123.50 219.60A117.80 117.80 0 0 0 1078.42 228.57Z" fill="#fdd4a3" stroke="#fdd4a3" stroke-width="0.5"/><path d="M1108.47 301.12A39.27 39.27 0 0 1 1123.50 298.13L1123.50 317.77A19.63 19.63 0 0 0 1115.99 319.26Z" fill="#feeed6" stroke="#feeed6" stroke-width="0.5"/>
<path d="M1123.50 160.70A176.70 176.70 0 0 1 1191.12 174.15M1123.50 180.33A157.07 157.07 0 0 1 1183.61 192.29M1123.50 160.70L1123.50 180.33M1191.12 174.15L1183.61 192.29M1123.50 180.33A157.07 157.07 0 0 1 1183.61 192.29M1123.50 199.97A137.43 137.43 0 0 1 1176.09 210.43M1123.50 180.33L1123.50 199.97M1183.61 192.29L1176.09 210.43M1123.50 199.97A137.43 137.43 0 0 1 1176.09 210.43M1123.50 219.60A117.80 117.80 0 0 1 1168.58 228.57M1123.50 199.97L1123.50 219.60M1176.09 210.43L1168.58 228.57M1123.50 219.60A117.80 117.80 0 0 1 1168.58 228.57M1123.50 239.23A98.17 98.17 0 0 1 1161.07 246.71M1123.50 219.60L1123.50 239.23M1168.58 228.57L1161.07 246.71M1191.12 174.15A176.70 176.70 0 0 1 1248.45 212.45M1183.61 192.29A157.07 157.07 0 0 1 1234.56 226.34M1191.12 174.15L1183.61 192.29M1248.45 212.45L1234.56 226.34M1183.61 192.29A157.07 157.07 0 0 1 1234.56 226.34M1176.09 210.43A137.43 137.43 0 0 1 1220.68 240.22M1183.61 192.29L1176.09 210.43M1234.56 226.34L1220.68 240.22M1176.09 210.43A137.43 137.43 0 0 1 1220.68 240.22M1168.58 228.57A117.80 117.80 0 0 1 1206.80 254.10M1176.09 210.43L1168.58 228.57M1220.68 240.22L1206.80 254.10M1168.58 228.57A117.80 117.80 0 0 1 1206.80 254.10M1161.07 246.71A98.17 98.17 0 0 1 1192.91 267.99M1168.58 228.57L1161.07 246.71M1206.80 254.10L1192.91 267.99M1161.07 246.71A98.17 98.17 0 0 1 1192.91 267.99M1153.55 264.84A78.53 78.53 0 0 1 1179.03 281.87M1161.07 246.71L1153.55 264.84M1192.91 267.99L1179.03 281.87M1146.04 282.98A58.90 58.90 0 0 1 1165.15 295.75M1138.53 301.12A39.27 39.27 0 0 1 1151.27 309.63M1146.04 282.98L1138.53 301.12M1165.15 295.75L1151.27 309.63M1248.45 212.45A176.70 176.70 0 0 1 1286.75 269.78M1234.56 226.34A157.07 157.07 0 0 1 1268.61 277.29M1248.45 212.45L1234.56 226.34M1286.75 269.78L1268.61 277.29M1234.56 226.34A157.07 157.07 0 0 1 1268.61 277.29M1220.68 240.22A137.43 137.43 0 0 1 1250.47 284.81M1234.56 226.34L1220.68 240.22M1268.61 277.29L1250.47 284.81M1220.68 240.22A137.43 137.43 0 0 1 1250.47 284.81M1206.80 254.10A117.80 117.80 0 0 1 1232.33 292.32M1220.68 240.22L1206.80 254.10M1250.47 284.81L1232.33 292.32M1206.80 254.10A117.80 117.80 0 0 1 1232.33 292.32M1192.91 267.99A98.17 98.17 0 0 1 1214.19 299.83M1206.80 254.10L1192.91 267.99M1232.33 292.32L1214.19 299.83M1192.91 267.99A98.17 98.17 0 0 1 1214.19 299.83M1179.03 281.87A78.53 78.53 0 0 1 1196.06 307.35M1192.91 267.99L1179.03 281.87M1214.19 299.83L1196.06 307.35M1165.15 295.75A58.90 58.90 0 0 1 1177.92 314.86M1151.27 309.63A39.27 39.27 0 0 1 1159.78 322.37M1165.15 295.75L1151.27 309.63M1177.92 314.86L1159.78 322.37M1286.75 269.78A176.70 176.70 0 0 1 1300.20 337.40M1268.61 277.29A157.07 157.07 0 0 1 1280.57 337.40M1286.75 269.78L1268.61 277.29M1268.61 277.29A157.07 157.07 0 0 1 1280.57 337.40M1250.47 284.81A137.43 137.43 0 0 1 1260.93 337.40M1268.61 277.29L1250.47 284.81M1250.47 284.81A137.43 137.43 0 0 1 1260.93 337.40M1232.33 292.32A117.80 117.80 0 0 1 1241.30 337.40M1250.47 284.81L1232.33 292.32M1232.33 292.32A117.80 117.80 0 0 1 1241.30 337.40M1214.19 299.83A98.17 98.17 0 0 1 1221.67 337.40M1232.33 292.32L1214.19 299.83M1214.19 299.83A98.17 98.17 0 0 1 1221.67 337.40M1196.06 307.35A78.53 78.53 0 0 1 1202.03 337.40M1214.19 299.83L1196.06 307.35M1159.78 322.37A39.27 39.27 0 0 1 1162.77 337.40M1141.64 329.89A19.63 19.63 0 0 1 1143.13 337.40M1159.78 322.37L1141.64 329.89M1300.20 337.40A176.70 176.70 0 0 1 1286.75 405.02M1280.57 337.40A157.07 157.07 0 0 1 1268.61 397.51M1286.75 405.02L1268.61 397.51M1280.57 337.40A157.07 157.07 0 0 1 1268.61 397.51M1260.93 337.40A137.43 137.43 0 0 1 1250.47 389.99M1268.61 397.51L1250.47 389.99M1260.93 337.40A137.43 137.43 0 0 1 1250.47 389.99M1241.30 337.40A117.80 117.80 0 0 1 1232.33 382.48M1250.47 389.99L1232.33 382.48M1241.30 337.40A117.80 117.80 0 0 1 1232.33 382.48M1221.67 337.40A98.17 98.17 0 0 1 1214.19 374.97M1232.33 382.48L1214.19 374.97M1202.03 337.40A78.53 78.53 0 0 1 1196.06 367.45M1182.40 337.40A58.90 58.90 0 0 1 1177.92 359.94M1196.06 367.45L1177.92 359.94M1143.13 337.40A19.63 19.63 0 0 1 1141.64 344.91M1141.64 344.91L1123.50 337.40M1286.75 405.02A176.70 176.70 0 0 1 1248.45 462.35M1268.61 397.51A157.07 157.07 0 0 1 1234.56 448.46M1286.75 405.02L1268.61 397.51M1248.45 462.35L1234.56 448.46M1268.61 397.51A157.07 157.07 0 0 1 1234.56 448.46M1250.47 389.99A137.43 137.43 0 0 1 1220.68 434.58M1268.61 397.51L1250.47 389.99M1234.56 448.46L1220.68 434.58M1250.47 389.99A137.43 137.43 0 0 1 1220.68 434.58M1232.33 382.48A117.80 117.80 0 0 1 1206.80 420.70M1250.47 389.99L1232.33 382.48M1220.68 434.58L1206.80 420.70M1214.19 374.97A98.17 98.17 0 0 1 1192.91 406.81M1196.06 367.45A78.53 78.53 0 0 1 1179.03 392.93M1214.19 374.97L1196.06 367.45M1192.91 406.81L1179.03 392.93M1177.92 359.94A58.90 58.90 0 0 1 1165.15 379.05M1159.78 352.43A39.27 39.27 0 0 1 1151.27 365.17M1177.92 359.94L1159.78 352.43M1165.15 379.05L1151.27 365.17M1248.45 462.35A176.70 176.70 0 0 1 1191.12 500.65M1234.56 448.46A157.07 157.07 0 0 1 1183.61 482.51M1248.45 462.35L1234.56 448.46M1191.12 500.65L1183.61 482.51M1234.56 448.46A157.07 157.07 0 0 1 1183.61 482.51M1220.68 434.58A137.43 137.43 0 0 1 1176.09 464.37M1234.56 448.46L1220.68 434.58M1183.61 482.51L1176.09 464.37M1220.68 434.58A137.43 137.43 0 0 1 1176.09 464.37M1206.80 420.70A117.80 117.80 0 0 1 1168.58 446.23M1220.68 434.58L1206.80 420.70M1176.09 464.37L1168.58 446.23M1206.80 420.70A117.80 117.80 0 0 1 1168.58 446.23M1192.91 406.81A98.17 98.17 0 0 1 1161.07 428.09M1206.80 420.70L1192.91 406.81M1168.58 446.23L1161.07 428.09M1179.03 392.93A78.53 78.53 0 0 1 1153.55 409.96M1165.15 379.05A58.90 58.90 0 0 1 1146.04 391.82M1179.03 392.93L1165.15 379.05M1153.55 409.96L1146.04 391.82M1165.15 379.05A58.90 58.90 0 0 1 1146.04 391.82M1151.27 365.17A39.27 39.27 0 0 1 1138.53 373.68M1165.15 379.05L1151.27 365.17M1146.04 391.82L1138.53 373.68M1191.12 500.65A176.70 176.70 0 0 1 1123.50 514.10M1183.61 482.51A157.07 157.07 0 0 1 1123.50 494.47M1191.12 500.65L1183.61 482.51M1123.50 514.10L1123.50 494.47M1183.61 482.51A157.07 157.07 0 0 1 1123.50 494.47M1176.09 464.37A137.43 137.43 0 0 1 1123.50 474.83M1183.61 482.51L1176.09 464.37M1123.50 494.47L1123.50 474.83M1168.58 446.23A117.80 117.80 0 0 1 1123.50 455.20M1161.07 428.09A98.17 98.17 0 0 1 1123.50 435.57M1168.58 446.23L1161.07 428.09M1123.50 455.20L1123.50 435.57M1161.07 428.09A98.17 98.17 0 0 1 1123.50 435.57M1153.55 409.96A78.53 78.53 0 0 1 1123.50 415.93M1161.07 428.09L1153.55 409.96M1123.50 435.57L1123.50 415.93M1138.53 373.68A39.27 39.27 0 0 1 1123.50 376.67M1131.01 355.54A19.63 19.63 0 0 1 1123.50 357.03M1138.53 373.68L1131.01 355.54M1123.50 376.67L1123.50 357.03M1123.50 514.10A176.70 176.70 0 0 1 1055.88 500.65M1123.50 494.47A157.07 157.07 0 0 1 1063.39 482.51M1123.50 514.10L1123.50 494.47M1055.88 500.65L1063.39 482.51M1123.50 494.47A157.07 157.07 0 0 1 1063.39 482.51M1123.50 474.83A137.43 137.43 0 0 1 1070.91 464.37M1123.50 494.47L1123.50 474.83M1063.39 482.51L1070.91 464.37M1123.50 455.20A117.80 117.80 0 0 1 1078.42 446.23M1123.50 435.57A98.17 98.17 0 0 1 1085.93 428.09M1123.50 455.20L1123.50 435.57M1078.42 446.23L1085.93 428.09M1123.50 435.57A98.17 98.17 0 0 1 1085.93 428.09M1123.50 415.93A78.53 78.53 0 0 1 1093.45 409.96M1123.50 435.57L1123.50 415.93M1085.93 428.09L1093.45 409.96M1123.50 357.03A19.63 19.63 0 0 1 1115.99 355.54M1123.50 357.03L1123.50 337.40M1115.99 355.54L1123.50 337.40M1055.88 500.65A176.70 176.70 0 0 1 998.55 462.35M1063.39 482.51A157.07 157.07 0 0 1 1012.44 448.46M1055.88 500.65L1063.39 482.51M998.55 462.35L1012.44 448.46M1063.39 482.51A157.07 157.07 0 0 1 1012.44 448.46M1070.91 464.37A137.43 137.43 0 0 1 1026.32 434.58M1063.39 482.51L1070.91 464.37M1012.44 448.46L1026.32 434.58M1078.42 446.23A117.80 117.80 0 0 1 1040.20 420.70M1085.93 428.09A98.17 98.17 0 0 1 1054.09 406.81M1078.42 446.23L1085.93 428.09M1040.20 420.70L1054.09 406.81M1085.93 428.09A98.17 98.17 0 0 1 1054.09 406.81M1093.45 409.96A78.53 78.53 0 0 1 1067.97 392.93M1085.93 428.09L1093.45 409.96M1054.09 406.81L1067.97 392.93M1026.32 434.58A137.43 137.43 0 0 1 996.53 389.99M1040.20 420.70A117.80 117.80 0 0 1 1014.67 382.48M1026.32 434.58L1040.20 420.70M996.53 389.99L1014.67 382.48M1050.94 367.45A78.53 78.53 0 0 1 1044.97 337.40M1069.08 359.94A58.90 58.90 0 0 1 1064.60 337.40M1050.94 367.45L1069.08 359.94M1044.97 337.40L1064.60 337.40M1069.08 359.94A58.90 58.90 0 0 1 1064.60 337.40M1087.22 352.43A39.27 39.27 0 0 1 1084.23 337.40M1069.08 359.94L1087.22 352.43M1064.60 337.40L1084.23 337.40M1032.81 299.83A98.17 98.17 0 0 1 1054.09 267.99M1050.94 307.35A78.53 78.53 0 0 1 1067.97 281.87M1032.81 299.83L1050.94 307.35M1054.09 267.99L1067.97 281.87M1050.94 307.35A78.53 78.53 0 0 1 1067.97 281.87M1069.08 314.86A58.90 58.90 0 0 1 1081.85 295.75M1050.94 307.35L1069.08 314.86M1067.97 281.87L1081.85 295.75M1087.22 322.37A39.27 39.27 0 0 1 1095.73 309.63M1105.36 329.89A19.63 19.63 0 0 1 1109.62 323.52M1087.22 322.37L1105.36 329.89M1095.73 309.63L1109.62 323.52M1012.44 226.34A157.07 157.07 0 0 1 1063.39 192.29M1026.32 240.22A137.43 137.43 0 0 1 1070.91 210.43M1012.44 226.34L1026.32 240.22M1063.39 192.29L1070.91 210.43M1026.32 240.22A137.43 137.43 0 0 1 1070.91 210.43M1040.20 254.10A117.80 117.80 0 0 1 1078.42 228.57M1026.32 240.22L1040.20 254.10M1070.91 210.43L1078.42 228.57M1040.20 254.10A117.80 117.80 0 0 1 1078.42 228.57M1054.09 267.99A98.17 98.17 0 0 1 1085.93 246.71M1040.20 254.10L1054.09 267.99M1078.42 228.57L1085.93 246.71M1054.09 267.99A98.17 98.17 0 0 1 1085.93 246.71M1067.97 281.87A78.53 78.53 0 0 1 1093.45 264.84M1054.09 267.99L1067.97 281.87M1085.93 246.71L1093.45 264.84M1067.97 281.87A78.53 78.53 0 0 1 1093.45 264.84M1081.85 295.75A58.90 58.90 0 0 1 1100.96 282.98M1067.97 281.87L1081.85 295.75M1093.45 264.84L1100.96 282.98M1055.88 174.15A176.70 176.70 0 0 1 1123.50 160.70M1063.39 192.29A157.07 157.07 0 0 1 1123.50 180.33M1055.88 174.15L1063.39 192.29M1123.50 160.70L1123.50 180.33M1063.39 192.29A157.07 157.07 0 0 1 1123.50 180.33M1070.91 210.43A137.43 137.43 0 0 1 1123.50 199.97M1063.39 192.29L1070.91 210.43M1123.50 180.33L1123.50 199.97M1070.91 210.43A137.43 137.43 0 0 1 1123.50 199.97M1078.42 228.57A117.80 117.80 0 0 1 1123.50 219.60M1070.91 210.43L1078.42 228.57M1123.50 199.97L1123.50 219.60M1108.47 301.12A39.27 39.27 0 0 1 1123.50 298.13M1115.99 319.26A19.63 19.63 0 0 1 1123.50 317.77M1108.47 301.12L1115.99 319.26M1123.50 298.13L1123.50 317.77" fill="none" stroke="#000" stroke-width="0.72"/>
<g fill="none" stroke="#000" stroke-width="1.05" stroke-dasharray="2.1 6.2"><circle cx="1123.50" cy="337.40" r="19.63"/><circle cx="1123.50" cy="337.40" r="39.27"/><circle cx="1123.50" cy="337.40" r="58.90"/><circle cx="1123.50" cy="337.40" r="78.53"/><circle cx="1123.50" cy="337.40" r="98.17"/><circle cx="1123.50" cy="337.40" r="117.80"/><circle cx="1123.50" cy="337.40" r="137.43"/><circle cx="1123.50" cy="337.40" r="157.07"/><line x1="1123.50" y1="337.40" x2="1123.50" y2="160.70"/><line x1="1123.50" y1="337.40" x2="1191.12" y2="174.15"/><line x1="1123.50" y1="337.40" x2="1248.45" y2="212.45"/><line x1="1123.50" y1="337.40" x2="1286.75" y2="269.78"/><line x1="1123.50" y1="337.40" x2="1300.20" y2="337.40"/><line x1="1123.50" y1="337.40" x2="1286.75" y2="405.02"/><line x1="1123.50" y1="337.40" x2="1248.45" y2="462.35"/><line x1="1123.50" y1="337.40" x2="1191.12" y2="500.65"/><line x1="1123.50" y1="337.40" x2="1123.50" y2="514.10"/><line x1="1123.50" y1="337.40" x2="1055.88" y2="500.65"/><line x1="1123.50" y1="337.40" x2="998.55" y2="462.35"/><line x1="1123.50" y1="337.40" x2="960.25" y2="405.02"/><line x1="1123.50" y1="337.40" x2="946.80" y2="337.40"/><line x1="1123.50" y1="337.40" x2="960.25" y2="269.78"/><line x1="1123.50" y1="337.40" x2="998.55" y2="212.45"/><line x1="1123.50" y1="337.40" x2="1055.88" y2="174.15"/></g>
<circle cx="1123.50" cy="337.40" r="176.70" fill="none" stroke="#000" stroke-width="2.1"/>
<g fill="#000"><circle cx="1078.4" cy="177.7" r="2.15"/><circle cx="1080.9" cy="181.4" r="2.15"/><circle cx="1087.7" cy="179.4" r="2.15"/><circle cx="1101.6" cy="169.2" r="2.15"/><circle cx="1104.0" cy="163.8" r="2.15"/><circle cx="1109.7" cy="163.8" r="2.15"/><circle cx="1115.0" cy="166.3" r="2.15"/><circle cx="1117.5" cy="166.8" r="2.15"/><circle cx="1107.7" cy="172.9" r="2.15"/><circle cx="1102.3" cy="177.0" r="2.15"/><circle cx="1115.0" cy="185.8" r="2.15"/><circle cx="1064.3" cy="196.5" r="2.15"/><circle cx="1067.4" cy="196.0" r="2.15"/><circle cx="1071.8" cy="194.8" r="2.15"/><circle cx="1088.2" cy="199.0" r="2.15"/><circle cx="1074.8" cy="204.6" r="2.15"/><circle cx="1101.6" cy="203.4" r="2.15"/><circle cx="1109.4" cy="206.3" r="2.15"/><circle cx="1119.9" cy="205.3" r="2.15"/><circle cx="1067.4" cy="230.9" r="2.15"/><circle cx="1074.0" cy="230.9" r="2.15"/><circle cx="1056.9" cy="270.9" r="2.15"/><circle cx="1079.2" cy="272.4" r="2.15"/><circle cx="1041.8" cy="288.8" r="2.15"/><circle cx="1043.0" cy="290.7" r="2.15"/><circle cx="1068.7" cy="286.3" r="2.15"/><circle cx="1065.7" cy="296.1" r="2.15"/><circle cx="1092.6" cy="315.1" r="2.15"/><circle cx="1102.8" cy="319.3" r="2.15"/><circle cx="1112.6" cy="305.8" r="2.15"/><circle cx="1152.0" cy="173.6" r="2.15"/><circle cx="1151.5" cy="175.3" r="2.15"/><circle cx="1149.1" cy="179.4" r="2.15"/><circle cx="1158.8" cy="177.0" r="2.15"/><circle cx="1162.0" cy="177.3" r="2.15"/><circle cx="1165.4" cy="177.7" r="2.15"/><circle cx="1177.9" cy="185.1" r="2.15"/><circle cx="1184.9" cy="187.0" r="2.15"/><circle cx="1125.4" cy="161.4" r="2.15"/><circle cx="1161.3" cy="188.0" r="2.15"/><circle cx="1167.4" cy="189.5" r="2.15"/><circle cx="1168.1" cy="197.7" r="2.15"/><circle cx="1125.9" cy="181.4" r="2.15"/><circle cx="1137.3" cy="210.2" r="2.15"/><circle cx="1127.6" cy="216.0" r="2.15"/><circle cx="1130.3" cy="227.3" r="2.15"/><circle cx="1141.7" cy="228.5" r="2.15"/><circle cx="1157.6" cy="230.2" r="2.15"/><circle cx="1163.0" cy="228.5" r="2.15"/><circle cx="1192.5" cy="189.5" r="2.15"/><circle cx="1197.9" cy="188.2" r="2.15"/><circle cx="1204.0" cy="194.3" r="2.15"/><circle cx="1214.9" cy="206.3" r="2.15"/><circle cx="1223.5" cy="213.1" r="2.15"/><circle cx="1193.5" cy="210.7" r="2.15"/><circle cx="1197.4" cy="207.8" r="2.15"/><circle cx="1212.0" cy="234.6" r="2.15"/><circle cx="1213.7" cy="244.4" r="2.15"/><circle cx="1204.7" cy="246.5" r="2.15"/><circle cx="1173.5" cy="241.9" r="2.15"/><circle cx="1191.8" cy="255.1" r="2.15"/><circle cx="1170.5" cy="252.9" r="2.15"/><circle cx="1151.5" cy="295.3" r="2.15"/><circle cx="1243.0" cy="223.4" r="2.15"/><circle cx="1246.7" cy="235.6" r="2.15"/><circle cx="1249.6" cy="247.3" r="2.15"/><circle cx="1262.5" cy="258.3" r="2.15"/><circle cx="1265.0" cy="260.7" r="2.15"/><circle cx="1276.7" cy="261.9" r="2.15"/><circle cx="1252.8" cy="270.9" r="2.15"/><circle cx="1254.7" cy="275.8" r="2.15"/><circle cx="1247.1" cy="281.0" r="2.15"/><circle cx="1207.1" cy="263.1" r="2.15"/><circle cx="1208.8" cy="288.8" r="2.15"/><circle cx="1200.3" cy="299.0" r="2.15"/><circle cx="1157.6" cy="307.5" r="2.15"/><circle cx="1153.0" cy="336.6" r="2.15"/><circle cx="1203.6" cy="333.5" r="2.15"/><circle cx="1231.9" cy="305.5" r="2.15"/><circle cx="1235.3" cy="334.0" r="2.15"/><circle cx="1229.7" cy="338.1" r="2.15"/><circle cx="1240.3" cy="313.3" r="2.15"/><circle cx="1247.2" cy="314.2" r="2.15"/><circle cx="1246.3" cy="326.0" r="2.15"/><circle cx="1257.7" cy="325.4" r="2.15"/><circle cx="1272.1" cy="299.9" r="2.15"/><circle cx="1264.6" cy="308.3" r="2.15"/><circle cx="1274.9" cy="339.4" r="2.15"/><circle cx="1277.1" cy="336.3" r="2.15"/><circle cx="1282.3" cy="272.8" r="2.15"/><circle cx="1278.6" cy="284.4" r="2.15"/><circle cx="1276.7" cy="293.7" r="2.15"/><circle cx="1285.1" cy="321.7" r="2.15"/><circle cx="1289.8" cy="326.0" r="2.15"/><circle cx="1286.4" cy="334.8" r="2.15"/><circle cx="1289.4" cy="335.9" r="2.15"/><circle cx="1292.6" cy="336.6" r="2.15"/><circle cx="1284.6" cy="339.1" r="2.15"/><circle cx="1281.0" cy="390.4" r="2.15"/><circle cx="1279.2" cy="393.2" r="2.15"/><circle cx="1270.6" cy="354.0" r="2.15"/><circle cx="1241.8" cy="362.8" r="2.15"/><circle cx="1243.5" cy="371.7" r="2.15"/><circle cx="1257.7" cy="368.4" r="2.15"/><circle cx="1219.2" cy="362.8" r="2.15"/><circle cx="1187.1" cy="357.2" r="2.15"/><circle cx="1194.0" cy="357.4" r="2.15"/><circle cx="1265.0" cy="411.4" r="2.15"/><circle cx="1272.3" cy="410.6" r="2.15"/><circle cx="1256.9" cy="419.9" r="2.15"/><circle cx="1268.1" cy="437.5" r="2.15"/><circle cx="1256.4" cy="446.5" r="2.15"/><circle cx="1256.9" cy="448.5" r="2.15"/><circle cx="1247.4" cy="421.6" r="2.15"/><circle cx="1252.8" cy="425.8" r="2.15"/><circle cx="1234.5" cy="439.4" r="2.15"/><circle cx="1233.7" cy="387.5" r="2.15"/><circle cx="1204.7" cy="384.3" r="2.15"/><circle cx="1161.3" cy="357.0" r="2.15"/><circle cx="1174.7" cy="361.4" r="2.15"/><circle cx="1238.9" cy="463.6" r="2.15"/><circle cx="1236.9" cy="466.0" r="2.15"/><circle cx="1239.8" cy="467.5" r="2.15"/><circle cx="1243.7" cy="463.1" r="2.15"/><circle cx="1228.4" cy="473.6" r="2.15"/><circle cx="1216.2" cy="476.0" r="2.15"/><circle cx="1214.2" cy="448.9" r="2.15"/><circle cx="1225.4" cy="450.2" r="2.15"/><circle cx="1213.2" cy="455.3" r="2.15"/><circle cx="1217.9" cy="459.0" r="2.15"/><circle cx="1181.5" cy="470.9" r="2.15"/><circle cx="1192.2" cy="442.4" r="2.15"/><circle cx="1180.8" cy="418.7" r="2.15"/><circle cx="1131.2" cy="483.1" r="2.15"/><circle cx="1158.8" cy="479.4" r="2.15"/><circle cx="1173.5" cy="474.8" r="2.15"/><circle cx="1175.2" cy="481.4" r="2.15"/><circle cx="1127.1" cy="497.3" r="2.15"/><circle cx="1132.0" cy="498.0" r="2.15"/><circle cx="1136.9" cy="505.1" r="2.15"/><circle cx="1159.6" cy="500.9" r="2.15"/><circle cx="1123.9" cy="500.9" r="2.15"/><circle cx="1133.1" cy="369.0" r="2.15"/><circle cx="1133.1" cy="340.7" r="2.15"/><circle cx="1233.9" cy="387.2" r="2.15"/><circle cx="1151.6" cy="367.3" r="2.15"/><circle cx="1165.5" cy="380.8" r="2.15"/><circle cx="1180.2" cy="418.9" r="2.15"/><circle cx="1192.3" cy="442.3" r="2.15"/><circle cx="1142.9" cy="418.1" r="2.15"/><circle cx="1119.5" cy="420.7" r="2.15"/><circle cx="1158.5" cy="429.3" r="2.15"/><circle cx="1121.8" cy="446.1" r="2.15"/><circle cx="1061.3" cy="499.0" r="2.15"/><circle cx="1066.2" cy="499.7" r="2.15"/><circle cx="1070.6" cy="499.7" r="2.15"/><circle cx="1076.0" cy="498.5" r="2.15"/><circle cx="1085.3" cy="500.9" r="2.15"/><circle cx="1089.4" cy="503.4" r="2.15"/><circle cx="1099.9" cy="505.3" r="2.15"/><circle cx="1104.0" cy="506.3" r="2.15"/><circle cx="1115.5" cy="499.0" r="2.15"/><circle cx="1115.5" cy="505.8" r="2.15"/><circle cx="1123.6" cy="500.2" r="2.15"/><circle cx="1057.2" cy="498.5" r="2.15"/><circle cx="1072.3" cy="476.5" r="2.15"/><circle cx="1084.5" cy="480.2" r="2.15"/><circle cx="1092.3" cy="477.0" r="2.15"/><circle cx="1123.1" cy="354.0" r="2.15"/><circle cx="1047.9" cy="489.9" r="2.15"/><circle cx="1053.5" cy="498.0" r="2.15"/><circle cx="1041.8" cy="493.1" r="2.15"/><circle cx="1050.4" cy="476.5" r="2.15"/><circle cx="1060.9" cy="477.3" r="2.15"/><circle cx="1050.4" cy="413.8" r="2.15"/><circle cx="1067.4" cy="416.0" r="2.15"/><circle cx="1019.4" cy="412.6" r="2.15"/><circle cx="1030.1" cy="413.1" r="2.15"/><circle cx="1052.1" cy="344.3" r="2.15"/><circle cx="1067.9" cy="339.9" r="2.15"/><circle cx="1074.8" cy="355.7" r="2.15"/></g>
<g fill="#ff3333"><circle cx="1243.7" cy="442.4" r="1.45"/></g>
<circle cx="1123.50" cy="337.40" r="2" fill="#000"/>
<text x="1123.5" y="143.3" font-size="20.8" text-anchor="middle">N</text>
<text x="1264.7" y="201.8" font-size="20.8" text-anchor="middle">NE</text>
<text x="1323.2" y="343.0" font-size="20.8" text-anchor="middle">E</text>
<text x="1264.7" y="484.2" font-size="20.8" text-anchor="middle">SE</text>
<text x="1123.5" y="542.7" font-size="20.8" text-anchor="middle">S</text>
<text x="982.3" y="484.2" font-size="20.8" text-anchor="middle">SW</text>
<text x="924.7" y="343.0" font-size="20.8" text-anchor="middle">W</text>
<text x="982.3" y="201.8" font-size="20.8" text-anchor="middle">NW</text>
<text x="1156.6" y="333.0" font-size="20.8" text-anchor="middle">80</text>
<text x="1195.9" y="333.0" font-size="20.8" text-anchor="middle">60</text>
<text x="1235.2" y="333.0" font-size="20.8" text-anchor="middle">40</text>
<text x="1274.4" y="333.0" font-size="20.8" text-anchor="middle">20</text>
<text x="1123.5" y="81.7" font-size="25" text-anchor="middle">W6LHI_433Mhz_3</text>
<text x="1123.5" y="110.8" font-size="25" text-anchor="middle">182 Total Packets</text>
<rect x="946.80" y="619" width="353.40" height="17" fill="url(#g)" stroke="#000" stroke-width="2.1"/>
<text x="946.8" y="664" font-size="25" text-anchor="middle">0</text>
<text x="1300.2" y="664" font-size="25" text-anchor="middle">11</text>
<text x="1123.5" y="698.5" font-size="25" text-anchor="middle">#Packets/Direction</text>
</g>
<g>

<path d="" fill="none" stroke="#000" stroke-width="0.72"/>
<g fill="none" stroke="#000" stroke-width="1.05" stroke-dasharray="2.1 6.2"><circle cx="1566.80" cy="337.40" r="19.63"/><circle cx="1566.80" cy="337.40" r="39.27"/><circle cx="1566.80" cy="337.40" r="58.90"/><circle cx="1566.80" cy="337.40" r="78.53"/><circle cx="1566.80" cy="337.40" r="98.17"/><circle cx="1566.80" cy="337.40" r="117.80"/><circle cx="1566.80" cy="337.40" r="137.43"/><circle cx="1566.80" cy="337.40" r="157.07"/><line x1="1566.80" y1="337.40" x2="1566.80" y2="160.70"/><line x1="1566.80" y1="337.40" x2="1634.42" y2="174.15"/><line x1="1566.80" y1="337.40" x2="1691.75" y2="212.45"/><line x1="1566.80" y1="337.40" x2="1730.05" y2="269.78"/><line x1="1566.80" y1="337.40" x2="1743.50" y2="337.40"/><line x1="1566.80" y1="337.40" x2="1730.05" y2="405.02"/><line x1="1566.80" y1="337.40" x2="1691.75" y2="462.35"/><line x1="1566.80" y1="337.40" x2="1634.42" y2="500.65"/><line x1="1566.80" y1="337.40" x2="1566.80" y2="514.10"/><line x1="1566.80" y1="337.40" x2="1499.18" y2="500.65"/><line x1="1566.80" y1="337.40" x2="1441.85" y2="462.35"/><line x1="1566.80" y1="337.40" x2="1403.55" y2="405.02"/><line x1="1566.80" y1="337.40" x2="1390.10" y2="337.40"/><line x1="1566.80" y1="337.40" x2="1403.55" y2="269.78"/><line x1="1566.80" y1="337.40" x2="1441.85" y2="212.45"/><line x1="1566.80" y1="337.40" x2="1499.18" y2="174.15"/></g>
<circle cx="1566.80" cy="337.40" r="176.70" fill="none" stroke="#000" stroke-width="2.1"/>
<g fill="#ff3333"><circle cx="1566.6" cy="169.7" r="1.45"/><circle cx="1510.4" cy="172.1" r="1.45"/><circle cx="1499.9" cy="174.6" r="1.45"/><circle cx="1510.9" cy="181.4" r="1.45"/><circle cx="1490.2" cy="185.1" r="1.45"/><circle cx="1481.6" cy="189.5" r="1.45"/><circle cx="1481.2" cy="192.9" r="1.45"/><circle cx="1525.6" cy="194.3" r="1.45"/><circle cx="1545.8" cy="191.6" r="1.45"/><circle cx="1559.2" cy="188.2" r="1.45"/><circle cx="1554.4" cy="200.2" r="1.45"/><circle cx="1524.3" cy="212.6" r="1.45"/><circle cx="1457.2" cy="207.0" r="1.45"/><circle cx="1430.7" cy="233.4" r="1.45"/><circle cx="1418.9" cy="251.4" r="1.45"/><circle cx="1412.8" cy="269.2" r="1.45"/><circle cx="1406.7" cy="271.7" r="1.45"/><circle cx="1401.9" cy="276.6" r="1.45"/><circle cx="1401.4" cy="279.7" r="1.45"/><circle cx="1400.2" cy="284.6" r="1.45"/><circle cx="1406.7" cy="283.4" r="1.45"/><circle cx="1397.0" cy="297.3" r="1.45"/><circle cx="1428.0" cy="294.9" r="1.45"/><circle cx="1516.1" cy="274.6" r="1.45"/><circle cx="1394.5" cy="324.6" r="1.45"/><circle cx="1418.5" cy="322.4" r="1.45"/><circle cx="1489.2" cy="325.8" r="1.45"/><circle cx="1577.4" cy="167.5" r="1.45"/><circle cx="1596.5" cy="164.8" r="1.45"/><circle cx="1616.5" cy="169.7" r="1.45"/><circle cx="1586.4" cy="183.4" r="1.45"/><circle cx="1612.8" cy="182.1" r="1.45"/><circle cx="1631.1" cy="182.1" r="1.45"/><circle cx="1621.8" cy="196.0" r="1.45"/><circle cx="1653.1" cy="185.5" r="1.45"/><circle cx="1655.5" cy="185.8" r="1.45"/><circle cx="1668.4" cy="202.6" r="1.45"/><circle cx="1670.1" cy="219.2" r="1.45"/><circle cx="1640.4" cy="252.6" r="1.45"/><circle cx="1653.5" cy="249.7" r="1.45"/><circle cx="1721.4" cy="255.8" r="1.45"/><circle cx="1726.3" cy="266.8" r="1.45"/><circle cx="1714.1" cy="272.9" r="1.45"/><circle cx="1730.7" cy="298.5" r="1.45"/><circle cx="1736.5" cy="297.8" r="1.45"/><circle cx="1686.5" cy="301.4" r="1.45"/><circle cx="1615.7" cy="309.5" r="1.45"/><circle cx="1638.9" cy="333.2" r="1.45"/><circle cx="1716.5" cy="324.6" r="1.45"/><circle cx="1736.0" cy="347.2" r="1.45"/><circle cx="1737.7" cy="348.9" r="1.45"/><circle cx="1741.6" cy="346.5" r="1.45"/><circle cx="1681.9" cy="355.7" r="1.45"/><circle cx="1720.9" cy="398.4" r="1.45"/><circle cx="1704.3" cy="406.5" r="1.45"/><circle cx="1707.2" cy="433.8" r="1.45"/><circle cx="1703.8" cy="445.5" r="1.45"/><circle cx="1687.2" cy="461.4" r="1.45"/><circle cx="1657.5" cy="486.3" r="1.45"/><circle cx="1637.2" cy="496.8" r="1.45"/><circle cx="1615.2" cy="496.5" r="1.45"/><circle cx="1585.5" cy="448.5" r="1.45"/><circle cx="1576.7" cy="488.0" r="1.45"/><circle cx="1571.3" cy="510.2" r="1.45"/><circle cx="1582.3" cy="507.8" r="1.45"/><circle cx="1591.3" cy="510.7" r="1.45"/><circle cx="1436.8" cy="348.9" r="1.45"/><circle cx="1415.8" cy="354.0" r="1.45"/><circle cx="1397.7" cy="366.7" r="1.45"/><circle cx="1396.5" cy="378.9" r="1.45"/><circle cx="1401.9" cy="392.8" r="1.45"/><circle cx="1406.3" cy="407.5" r="1.45"/><circle cx="1458.5" cy="461.9" r="1.45"/><circle cx="1470.2" cy="475.8" r="1.45"/><circle cx="1494.6" cy="479.4" r="1.45"/><circle cx="1521.4" cy="442.4" r="1.45"/><circle cx="1539.0" cy="456.3" r="1.45"/><circle cx="1523.9" cy="463.6" r="1.45"/><circle cx="1525.8" cy="482.6" r="1.45"/><circle cx="1541.4" cy="510.2" r="1.45"/><circle cx="1696.5" cy="218.1" r="1.45"/></g>
<circle cx="1566.80" cy="337.40" r="2" fill="#000"/>
<text x="1566.8" y="143.3" font-size="20.8" text-anchor="middle">N</text>
<text x="1708.0" y="201.8" font-size="20.8" text-anchor="middle">NE</text>
<text x="1766.5" y="343.0" font-size="20.8" text-anchor="middle">E</text>
<text x="1708.0" y="484.2" font-size="20.8" text-anchor="middle">SE</text>
<text x="1566.8" y="542.7" font-size="20.8" text-anchor="middle">S</text>
<text x="1425.6" y="484.2" font-size="20.8" text-anchor="middle">SW</text>
<text x="1368.0" y="343.0" font-size="20.8" text-anchor="middle">W</text>
<text x="1425.6" y="201.8" font-size="20.8" text-anchor="middle">NW</text>
<text x="1599.9" y="333.0" font-size="20.8" text-anchor="middle">80</text>
<text x="1639.2" y="333.0" font-size="20.8" text-anchor="middle">60</text>
<text x="1678.5" y="333.0" font-size="20.8" text-anchor="middle">40</text>
<text x="1717.7" y="333.0" font-size="20.8" text-anchor="middle">20</text>
<text x="1566.8" y="81.7" font-size="25" text-anchor="middle">W6LHI_915Mhz</text>
<text x="1566.8" y="110.8" font-size="25" text-anchor="middle">85 Total Packets</text>
<rect x="1390.10" y="619" width="353.40" height="17" fill="url(#g)" stroke="#000" stroke-width="2.1"/>
<text x="1390.1" y="664" font-size="25" text-anchor="middle">0</text>
<text x="1743.5" y="664" font-size="25" text-anchor="middle">1</text>
<text x="1566.8" y="698.5" font-size="25" text-anchor="middle">#Packets/Direction</text>
</g>
</svg></body></html>
